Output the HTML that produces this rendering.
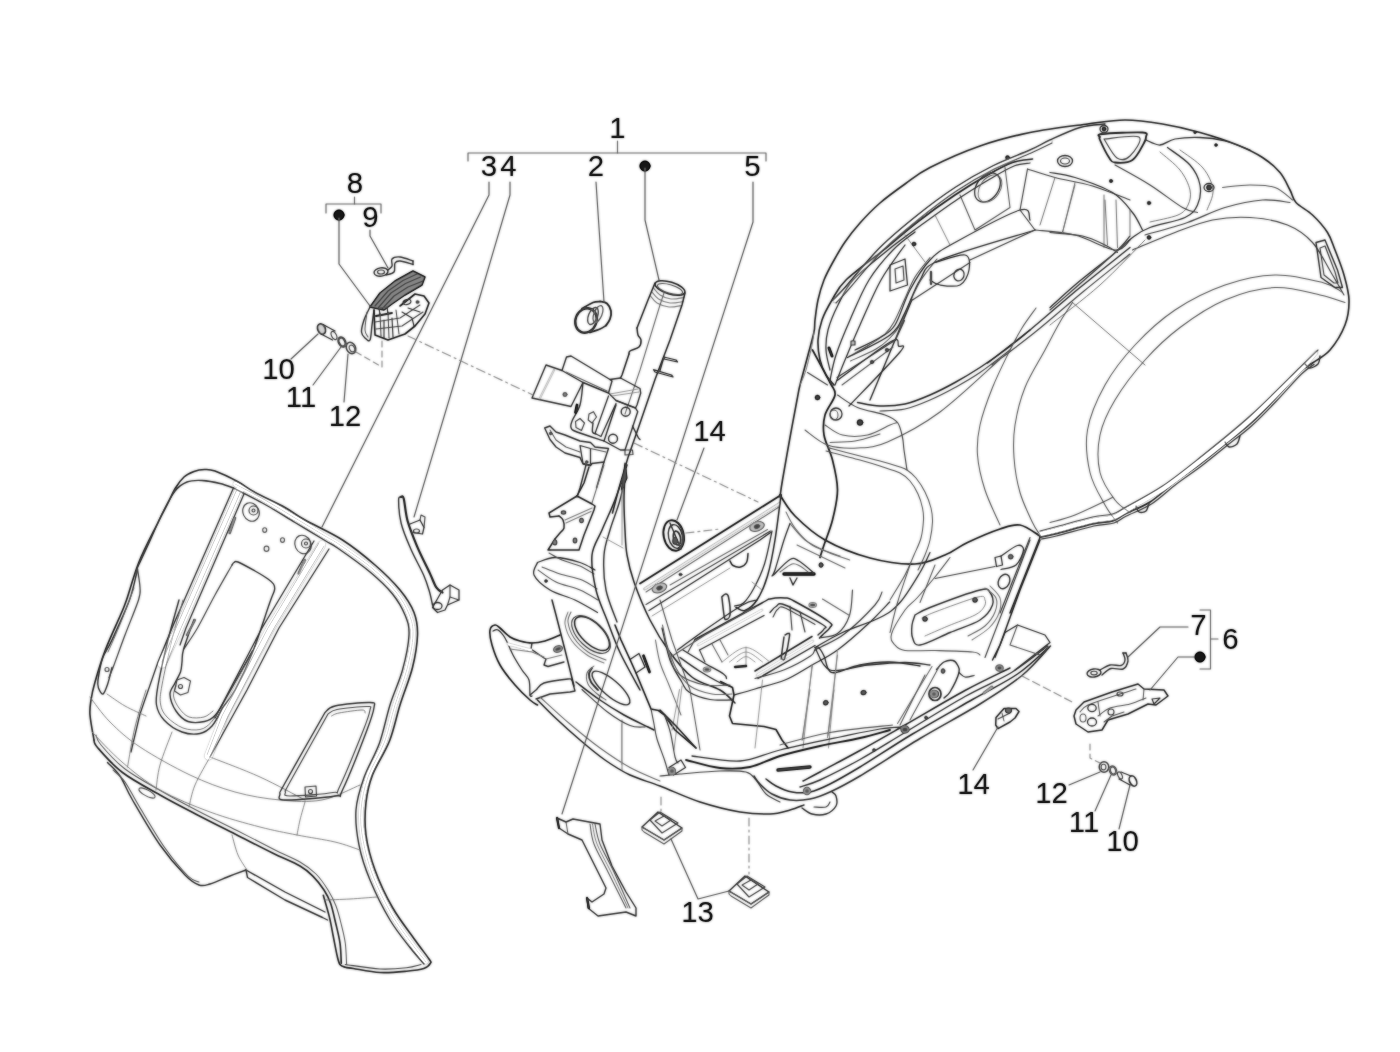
<!DOCTYPE html>
<html lang="en"><head><meta charset="utf-8"><title>Frame / bodywork</title>
<style>
html,body{margin:0;padding:0;background:#fff;}
body{width:1400px;height:1052px;overflow:hidden;}
svg{display:block;font-family:"Liberation Sans",Arial,sans-serif;}
svg path,svg ellipse{stroke-linecap:round;stroke-linejoin:round;}
</style></head><body>
<svg width="1400" height="1052" viewBox="0 0 1400 1052">
<rect width="1400" height="1052" fill="#fff"/>
<defs><filter id="bl" x="0" y="0" width="1400" height="1052" filterUnits="userSpaceOnUse" color-interpolation-filters="sRGB"><feGaussianBlur in="SourceGraphic" stdDeviation="0.8" result="b"/><feComposite operator="arithmetic" in="SourceGraphic" in2="b" k1="0" k2="0.6" k3="0.65" k4="0"/></filter></defs>
<g filter="url(#bl)">
<path d="M238.5,491.5 L179,628 L162,664" fill="none" stroke="#e4e4e4" stroke-width="9.2"/>
<path d="M321.5,545 L270.5,628 L224,716 L208.5,756" fill="none" stroke="#e4e4e4" stroke-width="9.2"/>
<path d="M235,484C240.0,486.7 255.0,494.3 265,500C275.0,505.7 285.0,512.0 295,518C305.0,524.0 317.5,531.5 325,536C332.5,540.5 332.0,539.5 340,545C348.0,550.5 363.7,561.2 373,569C382.3,576.8 390.0,584.5 396,592C402.0,599.5 406.2,606.8 409,614C411.8,621.2 413.3,625.8 413,635C412.7,644.2 410.0,657.3 407,669C404.0,680.7 398.8,692.8 395,705C391.2,717.2 389.0,730.0 384.5,742C380.0,754.0 371.9,765.7 368,777C364.1,788.3 361.8,799.5 361,810C360.2,820.5 361.0,829.0 363,840C365.0,851.0 368.2,863.7 373,876C377.8,888.3 385.0,902.7 391.5,914C398.0,925.3 406.2,936.0 412,944C417.8,952.0 423.7,959.0 426,962" fill="none" stroke="#e6e6e6" stroke-width="5.17"/>
<path d="M94,740C93.3,735.8 90.5,721.7 90,715C89.5,708.3 90.2,705.5 91,700C91.8,694.5 92.6,690.4 95,682C97.4,673.6 101.2,660.7 105.5,649.5C109.8,638.3 117.0,623.2 120.5,615C124.0,606.8 123.4,608.8 126.5,600C129.6,591.2 133.7,575.1 139,562C144.3,548.9 153.8,531.2 158.5,521.5C163.2,511.8 164.7,509.6 167.5,504C170.3,498.4 172.8,492.5 175.5,488C178.2,483.5 180.9,479.8 184,477C187.1,474.2 190.6,472.8 194,471.5C197.4,470.2 201.0,469.6 204.5,469.5C208.0,469.4 209.5,469.0 215,471C220.5,473.0 230.8,477.9 237.5,481.5C244.2,485.1 247.1,488.2 255,492.5C262.9,496.8 276.7,502.9 285,507.5C293.3,512.1 295.4,514.6 305,520C314.6,525.4 330.8,532.5 342.5,540C354.2,547.5 365.4,556.7 375,565C384.6,573.3 393.5,582.1 400,590C406.5,597.9 411.1,605.0 414,612.5C416.9,620.0 417.8,625.8 417.5,635C417.2,644.2 415.4,655.8 412.5,667.5C409.6,679.2 403.8,692.8 400,705C396.2,717.2 394.1,729.3 389.5,741C384.9,752.7 376.4,764.8 372.5,775C368.6,785.2 367.1,792.5 366,802.5C364.9,812.5 364.5,823.8 366,835C367.5,846.2 370.6,857.9 375,870C379.4,882.1 385.8,895.8 392.5,907.5C399.2,919.2 408.9,931.4 415,940C421.1,948.6 426.4,955.1 429,959C431.6,962.9 431.4,961.6 430.5,963.2C429.6,964.8 427.8,967.2 423.8,968.5C419.8,969.8 413.8,970.5 406.5,971.2C399.2,971.9 388.9,973.0 380,972.5C371.1,972.0 359.1,969.4 353.3,968.5C347.5,967.6 347.5,967.9 345.3,967.2C343.1,966.5 341.3,966.3 340,964.5C338.7,962.7 338.4,961.2 337.3,956.5C336.2,951.8 334.6,943.1 333.3,936.5C332.0,929.9 331.0,923.5 329.3,916.6C327.6,909.7 324.3,898.8 323.3,895.3" fill="none" stroke="#3a3a3a" stroke-width="1.61"/>
<path d="M233.5,488C238.8,490.8 254.8,498.8 265,504.5C275.2,510.2 285.0,516.5 295,522.5C305.0,528.5 317.9,536.2 325,540.5C332.1,544.8 330.0,542.8 337.5,548C345.0,553.2 360.8,564.3 370,572C379.2,579.7 386.7,586.8 392.5,594C398.3,601.2 402.2,608.2 405,615C407.8,621.8 409.4,625.8 409,635C408.6,644.2 405.7,658.3 402.5,670C399.3,681.7 393.8,692.8 390,705C386.2,717.2 383.8,730.9 379.5,743C375.2,755.1 367.9,766.3 364,777.5C360.1,788.7 356.8,798.8 356,810C355.2,821.2 356.7,833.3 359,845C361.3,856.7 364.8,867.5 370,880C375.2,892.5 383.3,908.8 390,920C396.7,931.2 404.3,940.2 410,947.5C415.7,954.8 421.7,961.2 424,964" fill="none" stroke="#444" stroke-width="1.38"/>
<path d="M235,484C240.0,486.7 255.0,494.3 265,500C275.0,505.7 285.0,512.0 295,518C305.0,524.0 317.5,531.5 325,536C332.5,540.5 332.0,539.5 340,545C348.0,550.5 363.7,561.2 373,569C382.3,576.8 390.0,584.5 396,592C402.0,599.5 406.2,606.8 409,614C411.8,621.2 413.3,625.8 413,635C412.7,644.2 410.0,657.3 407,669C404.0,680.7 398.8,692.8 395,705C391.2,717.2 389.0,730.0 384.5,742C380.0,754.0 371.9,765.7 368,777C364.1,788.3 361.8,799.5 361,810C360.2,820.5 361.0,829.0 363,840C365.0,851.0 368.2,863.7 373,876C377.8,888.3 385.0,902.7 391.5,914C398.0,925.3 406.2,936.0 412,944C417.8,952.0 423.7,959.0 426,962" fill="none" stroke="#888" stroke-width="0.92"/>
<path d="M233.5,488C231.2,487.2 225.2,484.8 220,483.5C214.8,482.2 207.5,480.8 202,480.5C196.5,480.2 191.5,480.2 187,482C182.5,483.8 179.0,486.0 175,491C171.0,496.0 167.5,503.0 163,512C158.5,521.0 152.2,535.8 148,545C143.8,554.2 139.2,563.8 137.5,567.5" fill="none" stroke="#444" stroke-width="1.38"/>
<path d="M233,489 L172,628 L158,662 L140,714 L131,752" fill="none" stroke="#444" stroke-width="1.26"/>
<path d="M236.5,490.5 L176,628 L162,662" fill="none" stroke="#777" stroke-width="0.92"/>
<path d="M240.5,492 L181,628 L166,665" fill="none" stroke="#777" stroke-width="0.92"/>
<path d="M244,494 L186,628 L180,645" fill="none" stroke="#444" stroke-width="1.26"/>
<path d="M314,541 L262,628 L215,718" fill="none" stroke="#444" stroke-width="1.26"/>
<path d="M319,543 L268,628 L222,716 L207,755" fill="none" stroke="#777" stroke-width="0.92"/>
<path d="M324,546 L274,628 L228,716 L210,757" fill="none" stroke="#777" stroke-width="0.92"/>
<path d="M329,549 L279,628 L247,690 L210,757" fill="none" stroke="#444" stroke-width="1.26"/>
<ellipse cx="251" cy="512" rx="8" ry="9.5" transform="rotate(-25 251 512)" fill="none" stroke="#555" stroke-width="1.15"/>
<ellipse cx="253.5" cy="510.5" rx="4.5" ry="4.5" transform="rotate(0 253.5 510.5)" fill="none" stroke="#555" stroke-width="1.15"/>
<ellipse cx="253.5" cy="510.5" rx="1.5" ry="1.5" transform="rotate(0 253.5 510.5)" fill="none" stroke="#555" stroke-width="1.15"/>
<ellipse cx="303" cy="544.5" rx="8" ry="9.5" transform="rotate(-25 303 544.5)" fill="none" stroke="#555" stroke-width="1.15"/>
<ellipse cx="306" cy="543.5" rx="4.5" ry="4.5" transform="rotate(0 306 543.5)" fill="none" stroke="#555" stroke-width="1.15"/>
<ellipse cx="306" cy="543.5" rx="1.5" ry="1.5" transform="rotate(0 306 543.5)" fill="none" stroke="#555" stroke-width="1.15"/>
<ellipse cx="264.7" cy="530" rx="2" ry="2.3" transform="rotate(0 264.7 530)" fill="none" stroke="#666" stroke-width="1.15"/>
<ellipse cx="282.5" cy="540" rx="2" ry="2.3" transform="rotate(0 282.5 540)" fill="none" stroke="#666" stroke-width="1.15"/>
<ellipse cx="266.5" cy="548.7" rx="2.4" ry="2.6" transform="rotate(0 266.5 548.7)" fill="none" stroke="#666" stroke-width="1.15"/>
<path d="M235,518 L229.7,533" fill="none" stroke="#777" stroke-width="2.53"/>
<path d="M304.7,560 L298.7,573.5" fill="none" stroke="#777" stroke-width="2.53"/>
<path d="M232,565C232.3,564.6 233.0,563.0 234,562.5C235.0,562.0 234.5,560.6 238,562C241.5,563.4 250.0,568.2 255,571C260.0,573.8 264.9,576.8 268,579C271.1,581.2 272.4,582.2 273.5,584C274.6,585.8 275.1,587.0 274.5,590C273.9,593.0 273.7,591.6 270,602C266.3,612.4 258.3,637.8 252.5,652.5C246.7,667.2 240.0,680.8 235,690C230.0,699.2 224.6,705.0 222.5,708" fill="none" stroke="#444" stroke-width="1.38"/>
<path d="M232,565C229.2,570.0 220.8,584.5 215,595C209.2,605.5 202.8,618.9 197.5,628C192.2,637.1 185.8,645.9 183.5,649.5" fill="none" stroke="#555" stroke-width="1.15"/>
<path d="M179,600C177.2,606.7 171.5,625.8 168,640C164.5,654.2 159.9,674.7 158,685.5C156.1,696.3 155.5,699.2 156.5,705C157.5,710.8 159.8,715.5 164,720C168.2,724.5 176.0,729.8 182,732C188.0,734.2 195.0,734.5 200,733.5C205.0,732.5 208.2,730.2 212,726C215.8,721.8 220.8,711.0 222.5,708" fill="none" stroke="#444" stroke-width="1.38"/>
<path d="M183,600C181.2,606.7 175.5,625.8 172,640C168.5,654.2 163.9,674.3 162,685C160.1,695.7 159.7,698.7 160.5,704C161.3,709.3 163.2,713.0 167,717C170.8,721.0 177.5,725.9 183,728C188.5,730.1 195.3,730.4 200,729.5C204.7,728.6 207.8,725.8 211,722.5C214.2,719.2 217.7,712.1 219,710" fill="none" stroke="#777" stroke-width="0.92"/>
<path d="M194,619.5C192.2,624.5 185.5,642.4 183.5,649.5C181.5,656.6 182.5,658.2 182,662C181.5,665.8 181.7,668.5 180.5,672C179.3,675.5 176.8,679.2 175,683C173.2,686.8 169.8,689.8 170,694.5C170.2,699.2 173.0,706.5 176,711C179.0,715.5 183.2,719.8 188,721.5C192.8,723.2 200.0,722.5 204.5,721.5C209.0,720.5 211.6,719.1 215,715.5C218.4,711.9 218.8,710.8 225,700C231.2,689.2 247.9,659.2 252.5,651" fill="none" stroke="#444" stroke-width="1.38"/>
<path d="M176,686C175.6,687.7 173.0,692.3 173.5,696C174.0,699.7 176.4,704.5 179,708C181.6,711.5 184.8,715.5 189,717C193.2,718.5 200.0,718.0 204,717C208.0,716.0 211.5,712.0 213,711" fill="none" stroke="#777" stroke-width="0.92"/>
<path d="M177,680 L184,677.5 L190.5,681 L188,692.5 L180.5,695 L174.5,691Z" fill="none" stroke="#555" stroke-width="1.15"/>
<ellipse cx="180.5" cy="686.5" rx="2" ry="2" transform="rotate(0 180.5 686.5)" fill="none" stroke="#555" stroke-width="1.15"/>
<path d="M195,620 L187,635" fill="none" stroke="#777" stroke-width="2.3"/>
<path d="M137.5,569C136.2,574.2 133.8,588.2 129.5,600C125.2,611.8 116.5,630.2 112,640C107.5,649.8 104.8,651.8 102.5,658.5C100.2,665.2 98.7,675.1 98,680C97.3,684.9 97.7,685.7 98.5,688C99.3,690.3 101.5,694.7 103,694C104.5,693.3 106.2,688.4 107.7,684C109.2,679.6 111.3,670.2 112,667.5" fill="none" stroke="#444" stroke-width="1.38"/>
<path d="M137.5,569C137.9,572.1 139.8,582.3 140,587.5C140.2,592.7 141.0,592.1 138.5,600C136.0,607.9 129.1,624.2 125,635C120.9,645.8 116.7,657.9 114,665C111.3,672.1 109.8,675.4 109,677.5" fill="none" stroke="#555" stroke-width="1.26"/>
<path d="M134,588C131.8,593.7 125.3,611.3 121,622C116.7,632.7 110.2,647.0 108,652" fill="none" stroke="#777" stroke-width="0.92"/>
<ellipse cx="107" cy="669.5" rx="2" ry="2" transform="rotate(0 107 669.5)" fill="none" stroke="#666" stroke-width="1.15"/>
<path d="M94,740C94.6,741.2 92.8,742.1 97.5,747.5C102.2,752.9 112.1,764.6 122.5,772.5C132.9,780.4 147.5,787.9 160,795C172.5,802.1 185.0,808.5 197.5,815C210.0,821.5 222.5,827.7 235,834C247.5,840.3 261.7,847.7 272.5,853C283.3,858.3 293.2,862.1 300,866C306.8,869.9 309.3,872.6 313.3,876.6C317.3,880.6 321.1,885.5 324,890C326.9,894.5 328.6,897.5 330.6,903.3C332.6,909.0 334.4,917.9 336,924.5C337.6,931.1 339.1,936.8 340,943.2C340.9,949.7 341.1,959.9 341.3,963.2" fill="none" stroke="#3a3a3a" stroke-width="1.61"/>
<path d="M96,735C96.8,736.7 96.2,739.3 101,745C105.8,750.7 114.8,761.2 125,769C135.2,776.8 149.7,784.4 162,791.5C174.3,798.6 186.5,805.0 199,811.5C211.5,818.0 224.5,824.2 237,830.5C249.5,836.8 263.5,844.2 274,849.5C284.5,854.8 293.0,857.9 300,862C307.0,866.1 311.3,869.3 316,874C320.7,878.7 324.7,884.7 328,890C331.3,895.3 333.8,900.2 336,906C338.2,911.8 339.8,918.3 341.3,924.5C342.9,930.7 344.4,936.5 345.3,943.2C346.2,949.9 346.4,961.0 346.6,964.5" fill="none" stroke="#666" stroke-width="1.03"/>
<path d="M107.5,762.5C109.6,764.8 115.8,769.8 120,776C124.2,782.2 125.8,788.5 132.5,800C139.2,811.5 151.2,832.5 160,845C168.8,857.5 178.5,868.3 185,875C191.5,881.7 194.8,883.5 199,885C203.2,886.5 204.8,885.5 210,884C215.2,882.5 224.0,878.3 230,876C236.0,873.7 243.3,871.0 246,870" fill="none" stroke="#444" stroke-width="1.38"/>
<path d="M113,770C115.0,772.0 120.7,776.0 125,782C129.3,788.0 132.3,795.0 139,806C145.7,817.0 156.8,836.3 165,848C173.2,859.7 182.3,870.3 188,876C193.7,881.7 197.2,881.0 199,882" fill="none" stroke="#666" stroke-width="1.03"/>
<path d="M246,870 L247.5,877.5 L285,900 L322.5,917.5 L327.5,920" fill="none" stroke="#444" stroke-width="1.38"/>
<path d="M246,870 L285,892 L325,912" fill="none" stroke="#444" stroke-width="1.38"/>
<path d="M232,835C233.0,838.3 235.5,849.2 238,855C240.5,860.8 245.5,867.5 247,870" fill="none" stroke="#888" stroke-width="0.92"/>
<ellipse cx="147" cy="793" rx="9" ry="3" transform="rotate(28 147 793)" fill="none" stroke="#666" stroke-width="1.03"/>
<path d="M90,697C93.3,701.2 101.7,713.7 110,722C118.3,730.3 126.7,738.2 140,747C153.3,755.8 174.2,767.5 190,775C205.8,782.5 220.0,787.8 235,792C250.0,796.2 265.5,798.7 280,800C294.5,801.3 308.7,802.5 322,800C335.3,797.5 353.7,787.5 360,785" fill="none" stroke="#888" stroke-width="0.92"/>
<path d="M92,732C97.0,737.0 110.7,752.3 122,762C133.3,771.7 145.3,781.7 160,790C174.7,798.3 193.3,805.8 210,812C226.7,818.2 245.5,823.2 260,827C274.5,830.8 284.5,832.5 297,835C309.5,837.5 324.5,839.5 335,842C345.5,844.5 355.8,848.7 360,850" fill="none" stroke="#888" stroke-width="0.92"/>
<path d="M146,690C144.2,696.2 138.1,714.2 135,727C131.9,739.8 128.8,760.3 127.5,767" fill="none" stroke="#888" stroke-width="0.92"/>
<path d="M172,732C170.0,737.5 162.7,755.3 160,765C157.3,774.7 156.7,785.8 156,790" fill="none" stroke="#888" stroke-width="0.92"/>
<path d="M210,757C207.5,761.7 198.5,776.7 195,785C191.5,793.3 190.0,803.3 189,807" fill="none" stroke="#888" stroke-width="0.92"/>
<path d="M210,757C218.3,760.3 244.2,769.8 260,777C275.8,784.2 297.5,796.2 305,800" fill="none" stroke="#888" stroke-width="0.92"/>
<path d="M305,802C304.2,805.0 301.3,814.5 300,820C298.7,825.5 297.5,832.5 297,835" fill="none" stroke="#888" stroke-width="0.92"/>
<path d="M325,900C329.2,899.8 341.3,899.5 350,899C358.7,898.5 372.5,897.3 377,897" fill="none" stroke="#888" stroke-width="0.92"/>
<path d="M107,694C110.0,696.0 118.5,702.3 125,706C131.5,709.7 142.5,714.3 146,716" fill="none" stroke="#888" stroke-width="0.92"/>
<path d="M325,712.5C326.7,711.4 327.5,707.7 335,706C342.5,704.3 363.5,702.2 370,702.5C376.5,702.8 374.5,702.9 374,707.5C373.5,712.1 372.2,716.2 367,730C361.8,743.8 347.8,779.0 342.5,790C337.2,801.0 344.6,794.3 335,796C325.4,797.7 294.2,800.3 285,800C275.8,799.7 280.0,796.8 280,794C280.0,791.2 277.5,796.6 285,783C292.5,769.4 318.3,724.2 325,712.5" fill="none" stroke="#444" stroke-width="1.38"/>
<path d="M328,714C329.5,713.2 330.5,710.8 337,709.5C343.5,708.2 361.5,706.4 367,706.5C372.5,706.6 370.7,705.9 370,710C369.3,714.1 368.1,718.2 363,731C357.9,743.8 344.5,776.8 339.5,787C334.5,797.2 341.2,791.0 333,792.5C324.8,794.0 297.9,796.1 290,796C282.1,795.9 285.5,794.3 285.5,792C285.5,789.7 282.9,795.0 290,782C297.1,769.0 321.7,725.3 328,714" fill="none" stroke="#555" stroke-width="1.15"/>
<path d="M331.5,716C332.8,715.5 333.9,714.0 339,713C344.1,712.0 357.7,710.0 362,710C366.3,710.0 364.5,712.5 365,713" fill="none" stroke="#777" stroke-width="0.92"/>
<path d="M305,787 L316,786 L316.5,796 L305.5,797Z" fill="none" stroke="#555" stroke-width="1.15"/>
<ellipse cx="310.5" cy="791.5" rx="2" ry="2" transform="rotate(0 310.5 791.5)" fill="none" stroke="#555" stroke-width="1.15"/>
<path d="M345.3,964.5C351.1,965.2 369.8,968.5 380,969C390.2,969.5 399.7,968.5 406.5,967.7C413.3,967.0 418.6,965.0 421,964.5" fill="none" stroke="#555" stroke-width="1.15"/>
<path d="M780,497C780.4,494.2 780.8,489.9 782.5,480C784.2,470.1 787.6,450.8 790,437.5C792.4,424.2 795.3,408.8 797,400C798.7,391.2 798.2,392.5 800,385C801.8,377.5 805.7,363.8 808,355C810.3,346.2 812.8,337.8 814,332C815.2,326.2 814.3,325.3 815,320C815.7,314.7 816.5,306.7 818,300C819.5,293.3 821.5,286.3 824,280C826.5,273.7 829.5,268.3 833,262C836.5,255.7 840.5,248.5 845,242C849.5,235.5 854.2,229.5 860,223C865.8,216.5 872.5,209.5 880,203C887.5,196.5 896.7,189.9 905,184C913.3,178.1 917.5,173.8 930,167.5C942.5,161.2 963.3,151.8 980,146C996.7,140.2 1012.1,136.2 1030,132.5C1047.9,128.8 1071.7,126.1 1087.5,124C1103.3,121.9 1112.5,120.0 1125,120C1137.5,120.0 1150.0,121.9 1162.5,124C1175.0,126.1 1187.5,129.0 1200,132.5C1212.5,136.0 1227.1,140.8 1237.5,145C1247.9,149.2 1255.4,152.9 1262.5,157.5C1269.6,162.1 1275.4,167.1 1280,172.5C1284.6,177.9 1287.3,185.0 1290,190C1292.7,195.0 1292.2,198.3 1296,202.5C1299.8,206.7 1307.2,210.0 1312.5,215C1317.8,220.0 1323.8,226.7 1327.5,232.5C1331.2,238.3 1332.2,242.9 1335,250C1337.8,257.1 1341.7,266.7 1344,275C1346.3,283.3 1348.8,291.7 1349,300C1349.2,308.3 1348.2,316.7 1345,325C1341.8,333.3 1335.4,343.7 1330,350C1324.6,356.3 1317.5,359.3 1312.5,363C1307.5,366.7 1306.2,366.0 1300,372C1293.8,378.0 1283.3,390.3 1275,399C1266.7,407.7 1258.3,416.5 1250,424C1241.7,431.5 1233.3,437.3 1225,444C1216.7,450.7 1208.3,457.7 1200,464C1191.7,470.3 1183.3,475.7 1175,482C1166.7,488.3 1158.3,496.7 1150,502C1141.7,507.3 1131.2,510.8 1125,514C1118.8,517.2 1117.9,519.3 1112.5,521C1107.1,522.7 1102.1,521.8 1092.5,524C1082.9,526.2 1063.8,531.8 1055,534C1046.2,536.2 1042.5,536.5 1040,537" fill="none" stroke="#3a3a3a" stroke-width="1.61"/>
<path d="M1040,534C1042.5,533.4 1046.2,532.8 1055,530.5C1063.8,528.2 1082.9,522.7 1092.5,520.5C1102.1,518.3 1107.1,519.1 1112.5,517.5C1117.9,515.9 1116.7,515.8 1125,511C1133.3,506.2 1150.0,497.3 1162.5,489C1175.0,480.7 1185.4,472.5 1200,461C1214.6,449.5 1233.3,435.2 1250,420C1266.7,404.8 1289.0,381.2 1300,370C1311.0,358.8 1313.3,355.8 1316,353" fill="none" stroke="#e0e0e0" stroke-width="4.6"/>
<path d="M1040,531C1042.5,530.3 1046.2,529.3 1055,527C1063.8,524.7 1082.9,519.2 1092.5,517C1102.1,514.8 1107.1,515.6 1112.5,514C1117.9,512.4 1116.7,512.2 1125,507.5C1133.3,502.8 1150.0,494.3 1162.5,486C1175.0,477.7 1185.4,469.2 1200,457.5C1214.6,445.8 1233.3,431.0 1250,416C1266.7,401.0 1288.7,378.5 1300,367.5C1311.3,356.5 1315.0,352.9 1318,350" fill="none" stroke="#555" stroke-width="1.15"/>
<path d="M1314,364.5C1311.9,366.1 1307.8,367.9 1301.5,374C1295.2,380.1 1284.8,392.3 1276.5,401C1268.2,409.7 1259.8,418.5 1251.5,426C1243.2,433.5 1234.8,439.3 1226.5,446C1218.2,452.7 1209.8,459.7 1201.5,466C1193.2,472.3 1184.8,477.7 1176.5,484C1168.2,490.3 1159.8,498.7 1151.5,504C1143.2,509.3 1132.8,512.8 1126.5,516C1120.2,519.2 1119.4,521.3 1114,523C1108.6,524.7 1103.6,523.8 1094,526C1084.4,528.2 1065.2,533.8 1056.5,536C1047.8,538.2 1044.0,538.5 1041.5,539" fill="none" stroke="#555" stroke-width="1.26"/>
<path d="M1136,506C1136.5,507.0 1137.3,511.2 1139,512C1140.7,512.8 1144.3,512.5 1146,511C1147.7,509.5 1148.5,504.3 1149,503" fill="none" stroke="#444" stroke-width="1.38"/>
<path d="M1225,442C1225.7,442.8 1227.0,446.7 1229,447C1231.0,447.3 1235.2,445.8 1237,444C1238.8,442.2 1239.5,437.3 1240,436" fill="none" stroke="#444" stroke-width="1.38"/>
<path d="M1305,364C1305.8,364.7 1307.8,368.0 1310,368C1312.2,368.0 1316.3,366.0 1318,364C1319.7,362.0 1319.7,357.3 1320,356" fill="none" stroke="#444" stroke-width="1.38"/>
<path d="M834.5,301.5C836.5,299.4 838.7,297.8 846.5,289C854.3,280.2 869.4,261.1 881.5,249C893.6,236.9 906.5,226.5 919,216.5C931.5,206.5 944.0,197.2 956.5,189C969.0,180.8 981.6,173.8 994,167.5C1006.4,161.2 1021.5,155.8 1031,151.5C1040.5,147.2 1047.7,143.2 1051,141.5" fill="none" stroke="#d6d6d6" stroke-width="3.45"/>
<path d="M833,300C835.0,297.9 837.2,296.2 845,287.5C852.8,278.8 867.9,259.6 880,247.5C892.1,235.4 905.0,225.0 917.5,215C930.0,205.0 942.5,195.7 955,187.5C967.5,179.3 980.0,172.2 992.5,166C1005.0,159.8 1020.4,154.3 1030,150C1039.6,145.7 1041.7,143.8 1050,140C1058.3,136.2 1070.8,130.2 1080,127.5C1089.2,124.8 1100.8,124.6 1105,124" fill="none" stroke="#444" stroke-width="1.38"/>
<path d="M836,303C838.0,300.8 840.2,298.8 848,290C855.8,281.2 871.0,262.0 883,250C895.0,238.0 907.7,227.9 920,218C932.3,208.1 944.7,198.7 957,190.5C969.3,182.3 981.7,175.2 994,169C1006.3,162.8 1021.3,157.3 1031,153C1040.7,148.7 1048.5,144.7 1052,143" fill="none" stroke="#555" stroke-width="1.15"/>
<path d="M834,385C832.7,383.3 828.3,379.2 826,375C823.7,370.8 821.3,365.8 820,360C818.7,354.2 817.7,346.7 818,340C818.3,333.3 819.7,326.7 822,320C824.3,313.3 828.0,306.7 832,300C836.0,293.3 837.4,288.3 846,280C854.6,271.7 871.6,259.7 883.5,250C895.4,240.3 905.6,231.2 917.5,222C929.4,212.8 943.3,202.8 955,195C966.7,187.2 977.9,180.4 987.5,175C997.1,169.6 1005.0,165.2 1012.5,162.5C1020.0,159.8 1029.2,159.6 1032.5,159" fill="none" stroke="#3a3a3a" stroke-width="1.61"/>
<path d="M830,370C829.3,366.7 826.3,356.7 826,350C825.7,343.3 826.0,337.5 828,330C830.0,322.5 833.8,313.3 838,305C842.2,296.7 844.7,289.2 853,280C861.3,270.8 876.8,259.0 888,250C899.2,241.0 908.3,234.5 920,226C931.7,217.5 946.3,206.8 958,199C969.7,191.2 980.7,184.5 990,179C999.3,173.5 1007.3,168.7 1014,166C1020.7,163.3 1027.3,163.5 1030,163" fill="none" stroke="#444" stroke-width="1.26"/>
<path d="M830,380C831.0,375.8 832.7,365.0 836,355C839.3,345.0 844.5,332.5 850,320C855.5,307.5 861.8,291.7 869,280C876.2,268.3 885.3,258.0 893,250C900.7,242.0 911.3,235.0 915,232" fill="none" stroke="#444" stroke-width="1.26"/>
<path d="M835,385C836.7,380.8 840.8,370.0 845,360C849.2,350.0 854.0,338.3 860,325C866.0,311.7 873.5,293.3 881,280C888.5,266.7 901.0,250.8 905,245" fill="none" stroke="#444" stroke-width="1.26"/>
<path d="M930,257.5C927.5,260.8 919.2,270.0 915,277C910.8,284.0 908.0,292.0 904.5,299.5C901.0,307.0 897.2,316.2 894,322C890.8,327.8 889.0,330.2 885,334C881.0,337.8 876.0,340.8 870,344.5C864.0,348.2 852.5,354.5 849,356.5" fill="none" stroke="#666" stroke-width="1.03"/>
<path d="M937,259C934.3,262.5 925.4,273.0 921,280C916.6,287.0 914.0,293.5 910.5,301C907.0,308.5 903.5,318.8 900,325C896.5,331.2 893.5,334.5 889.5,338.5C885.5,342.5 882.5,345.2 876,349C869.5,352.8 854.8,359.0 850.5,361" fill="none" stroke="#666" stroke-width="1.03"/>
<path d="M912,299.5 L870,400" fill="none" stroke="#444" stroke-width="1.38"/>
<path d="M904.5,320.5 L895.5,340 L837,377.5" fill="none" stroke="#555" stroke-width="1.15"/>
<path d="M829,348 L832,356" fill="none" stroke="#2a2a2a" stroke-width="2.99"/>
<path d="M814,332C813.7,334.2 813.3,338.7 812,345C810.7,351.3 808.0,363.3 806,370C804.0,376.7 801.0,382.5 800,385" fill="none" stroke="#888" stroke-width="0.92"/>
<path d="M851,341 L855,341 L855,345 L851,345Z" fill="#999" stroke="#555" stroke-width="1.15"/>
<path d="M1035,230C1019.2,235.0 959.2,251.7 940,260C920.8,268.3 925.8,271.2 920,280C914.2,288.8 910.0,303.3 905,312.5C900.0,321.7 899.6,327.5 890,335C880.4,342.5 854.6,353.8 847.5,357.5" fill="none" stroke="#444" stroke-width="1.26"/>
<path d="M1030,220C1028.3,218.3 1032.5,206.2 1020,210C1007.5,213.8 970.0,234.2 955,242.5C940.0,250.8 937.5,252.1 930,260C922.5,267.9 915.8,279.2 910,290C904.2,300.8 900.0,317.1 895,325C890.0,332.9 886.7,333.3 880,337.5C873.3,341.7 859.2,347.9 855,350" fill="none" stroke="#444" stroke-width="1.26"/>
<path d="M970,260 L1035,230" fill="none" stroke="#555" stroke-width="1.15"/>
<path d="M912.5,300 L970,262.5" fill="none" stroke="#555" stroke-width="1.15"/>
<path d="M935,262.5C940.0,261.2 959.3,253.8 965,255C970.7,256.2 969.8,265.0 969,270C968.2,275.0 964.8,282.5 960,285C955.2,287.5 945.0,285.8 940,285C935.0,284.2 931.7,280.8 930,280" fill="none" stroke="#444" stroke-width="1.26"/>
<ellipse cx="959" cy="275" rx="5" ry="6" transform="rotate(20 959 275)" fill="none" stroke="#444" stroke-width="1.26"/>
<path d="M931,272 L931,284" fill="none" stroke="#555" stroke-width="2.3"/>
<path d="M1035,230C1041.7,230.8 1061.7,231.7 1075,235C1088.3,238.3 1105.8,249.2 1115,250C1124.2,250.8 1127.5,241.7 1130,240" fill="none" stroke="#555" stroke-width="1.15"/>
<path d="M1027.5,169C1032.1,170.4 1044.2,174.7 1055,177.5C1065.8,180.3 1080.0,182.2 1092.5,186C1105.0,189.8 1123.8,197.7 1130,200" fill="none" stroke="#555" stroke-width="1.15"/>
<path d="M1027.5,169 L1020,210 L1035,230" fill="none" stroke="#555" stroke-width="1.15"/>
<path d="M1055,177.5 L1040,225" fill="none" stroke="#777" stroke-width="0.92"/>
<path d="M1075,182.5 L1062.5,232.5" fill="none" stroke="#777" stroke-width="0.92"/>
<path d="M1105,200 L1107.5,245" fill="none" stroke="#777" stroke-width="0.92"/>
<ellipse cx="987.5" cy="187.5" rx="11" ry="16" transform="rotate(35 987.5 187.5)" fill="none" stroke="#444" stroke-width="1.26"/>
<ellipse cx="990" cy="188.5" rx="10" ry="15" transform="rotate(35 990 188.5)" fill="none" stroke="#777" stroke-width="0.92"/>
<path d="M960,195 L975,230 L1010,207.5 L1005,167.5" fill="none" stroke="#666" stroke-width="1.03"/>
<path d="M935,215 L950,245" fill="none" stroke="#888" stroke-width="0.92"/>
<path d="M905,235 L925,262" fill="none" stroke="#888" stroke-width="0.92"/>
<path d="M987.5,363C994.6,357.5 1014.6,342.6 1030,330C1045.4,317.4 1063.3,301.2 1080,287.5C1096.7,273.8 1121.7,254.2 1130,247.5" fill="none" stroke="#444" stroke-width="1.38"/>
<path d="M992,365C999.0,359.7 1018.7,345.3 1034,333C1049.3,320.7 1068.0,304.2 1084,291C1100.0,277.8 1122.3,260.2 1130,254" fill="none" stroke="#555" stroke-width="1.15"/>
<ellipse cx="1065" cy="161" rx="7.5" ry="5.5" transform="rotate(0 1065 161)" fill="none" stroke="#444" stroke-width="1.26"/>
<ellipse cx="1065" cy="161" rx="4.5" ry="3" transform="rotate(0 1065 161)" fill="none" stroke="#555" stroke-width="1.15"/>
<ellipse cx="1007.5" cy="157.5" rx="2" ry="2" transform="rotate(0 1007.5 157.5)" fill="#333" stroke="#333" stroke-width="0.57"/>
<ellipse cx="914" cy="244" rx="2" ry="2" transform="rotate(0 914 244)" fill="#333" stroke="#333" stroke-width="0.57"/>
<ellipse cx="1111" cy="181" rx="1.7" ry="1.7" transform="rotate(0 1111 181)" fill="#333" stroke="#333" stroke-width="0.57"/>
<path d="M890,265 L905,259 L907.5,285 L890,291Z" fill="none" stroke="#444" stroke-width="1.26"/>
<path d="M895,269 L903,266 L904,280 L896,283Z" fill="none" stroke="#555" stroke-width="1.15"/>
<path d="M1100,137C1100.3,136.5 1094.9,134.8 1102,134C1109.1,133.2 1135.2,132.0 1142.5,132.5C1149.8,133.0 1145.8,135.2 1146,137C1146.2,138.8 1146.2,139.2 1144,143C1141.8,146.8 1137.3,156.8 1132.5,160C1127.7,163.2 1118.9,162.9 1115,162.5C1111.1,162.1 1111.5,161.2 1109,157.5C1106.5,153.8 1101.5,143.4 1100,140C1098.5,136.6 1100.0,137.5 1100,137" fill="none" stroke="#3a3a3a" stroke-width="1.84"/>
<path d="M1104,139C1109.8,138.7 1134.7,134.2 1139,137C1143.3,139.8 1133.7,152.5 1130,156C1126.3,159.5 1121.3,160.8 1117,158C1112.7,155.2 1106.2,142.2 1104,139" fill="none" stroke="#555" stroke-width="1.15"/>
<ellipse cx="1104" cy="129" rx="4" ry="3.5" transform="rotate(0 1104 129)" fill="none" stroke="#444" stroke-width="1.26"/>
<ellipse cx="1104" cy="129" rx="2" ry="2" transform="rotate(0 1104 129)" fill="#333" stroke="#333" stroke-width="0.57"/>
<ellipse cx="1209" cy="187.5" rx="5" ry="4" transform="rotate(0 1209 187.5)" fill="none" stroke="#444" stroke-width="1.26"/>
<ellipse cx="1209" cy="187.5" rx="2.5" ry="2.5" transform="rotate(0 1209 187.5)" fill="#333" stroke="#333" stroke-width="0.57"/>
<ellipse cx="1149" cy="203" rx="1.8" ry="1.8" transform="rotate(0 1149 203)" fill="#333" stroke="#333" stroke-width="0.57"/>
<ellipse cx="1149" cy="237.5" rx="2" ry="2" transform="rotate(0 1149 237.5)" fill="#333" stroke="#333" stroke-width="0.57"/>
<ellipse cx="1216" cy="145" rx="1.5" ry="1.5" transform="rotate(0 1216 145)" fill="#333" stroke="#333" stroke-width="0.57"/>
<ellipse cx="1195" cy="132.5" rx="1.3" ry="1.3" transform="rotate(0 1195 132.5)" fill="#333" stroke="#333" stroke-width="0.57"/>
<path d="M1146,140C1148.3,140.8 1155.2,145.2 1160,145C1164.8,144.8 1168.3,140.2 1175,139C1181.7,137.8 1191.7,137.2 1200,137.5C1208.3,137.8 1216.7,138.9 1225,141C1233.3,143.1 1245.8,148.5 1250,150" fill="none" stroke="#444" stroke-width="1.26"/>
<path d="M1167.5,147.5C1171.2,150.4 1184.6,158.8 1190,165C1195.4,171.2 1198.8,178.3 1200,185C1201.2,191.7 1200.0,199.6 1197.5,205C1195.0,210.4 1192.9,213.8 1185,217.5C1177.1,221.2 1158.8,224.2 1150,227.5C1141.2,230.8 1138.8,232.9 1132.5,237.5C1126.2,242.1 1122.1,247.1 1112.5,255C1102.9,262.9 1085.4,276.2 1075,285C1064.6,293.8 1054.2,303.8 1050,307.5" fill="none" stroke="#444" stroke-width="1.26"/>
<path d="M1160,152C1163.3,155.0 1175.0,163.7 1180,170C1185.0,176.3 1188.7,184.2 1190,190C1191.3,195.8 1190.0,200.8 1188,205C1186.0,209.2 1184.3,212.2 1178,215C1171.7,217.8 1154.7,220.8 1150,222" fill="none" stroke="#777" stroke-width="0.92"/>
<path d="M1180,150C1183.8,153.0 1197.5,161.3 1203,168C1208.5,174.7 1212.3,183.0 1213,190C1213.7,197.0 1208.0,206.7 1207,210" fill="none" stroke="#777" stroke-width="0.92"/>
<path d="M1050,172.5C1054.2,173.3 1064.6,174.2 1075,177.5C1085.4,180.8 1102.9,186.7 1112.5,192.5C1122.1,198.3 1127.5,206.2 1132.5,212.5C1137.5,218.8 1140.8,227.1 1142.5,230" fill="none" stroke="#444" stroke-width="1.26"/>
<path d="M1115,165C1120.8,168.3 1138.8,177.9 1150,185C1161.2,192.1 1174.6,202.9 1182.5,207.5C1190.4,212.1 1195.0,211.7 1197.5,212.5" fill="none" stroke="#555" stroke-width="1.15"/>
<path d="M1145,235C1152.1,232.9 1174.2,227.1 1187.5,222.5C1200.8,217.9 1212.5,211.2 1225,207.5C1237.5,203.8 1251.7,200.8 1262.5,200C1273.3,199.2 1285.4,202.1 1290,202.5" fill="none" stroke="#555" stroke-width="1.15"/>
<path d="M1132.5,250C1139.6,247.1 1161.7,237.5 1175,232.5C1188.3,227.5 1200.0,222.5 1212.5,220C1225.0,217.5 1237.5,216.7 1250,217.5C1262.5,218.3 1277.1,220.8 1287.5,225C1297.9,229.2 1305.0,234.2 1312.5,242.5C1320.0,250.8 1327.2,266.2 1332.5,275C1337.8,283.8 1342.1,291.7 1344,295" fill="none" stroke="#555" stroke-width="1.15"/>
<path d="M1222.5,187.5C1227.1,187.1 1241.2,185.0 1250,185C1258.8,185.0 1267.9,185.0 1275,187.5C1282.1,190.0 1289.6,197.9 1292.5,200" fill="none" stroke="#666" stroke-width="1.03"/>
<path d="M1050,232.5C1055.4,233.1 1073.3,233.9 1082.5,236C1091.7,238.1 1099.2,242.2 1105,245C1110.8,247.8 1115.4,251.2 1117.5,252.5" fill="none" stroke="#555" stroke-width="1.15"/>
<path d="M1062.5,232.5 L1075,185" fill="none" stroke="#777" stroke-width="0.92"/>
<path d="M1104,247.5 L1104,195" fill="none" stroke="#777" stroke-width="0.92"/>
<path d="M1117.5,247.5 L1116,200" fill="none" stroke="#777" stroke-width="0.92"/>
<path d="M1130,235 L1130,210" fill="none" stroke="#777" stroke-width="0.92"/>
<path d="M1130,236C1127.1,239.2 1125.8,242.7 1112.5,255C1099.2,267.3 1060.4,300.8 1050,310" fill="none" stroke="#555" stroke-width="1.15"/>
<path d="M1145,240C1137.5,247.5 1115.8,270.8 1100,285C1084.2,299.2 1058.3,318.3 1050,325" fill="none" stroke="#777" stroke-width="0.92"/>
<path d="M1072.5,302.5 L1145,365" fill="none" stroke="#777" stroke-width="0.92"/>
<path d="M1117.5,523C1115.4,520.0 1109.6,513.4 1105,505C1100.4,496.6 1092.9,485.0 1090,472.5C1087.1,460.0 1085.0,444.6 1087.5,430C1090.0,415.4 1097.1,399.2 1105,385C1112.9,370.8 1123.3,357.5 1135,345C1146.7,332.5 1160.0,320.0 1175,310C1190.0,300.0 1208.3,290.8 1225,285C1241.7,279.2 1258.8,275.4 1275,275C1291.2,274.6 1311.3,279.7 1322.5,282.5C1333.7,285.3 1338.8,290.4 1342,292" fill="none" stroke="#666" stroke-width="1.03"/>
<path d="M1130,512.5C1127.5,510.4 1120.0,506.7 1115,500C1110.0,493.3 1102.5,483.3 1100,472.5C1097.5,461.7 1097.5,447.1 1100,435C1102.5,422.9 1107.5,412.5 1115,400C1122.5,387.5 1134.2,372.1 1145,360C1155.8,347.9 1166.7,337.5 1180,327.5C1193.3,317.5 1209.2,306.7 1225,300C1240.8,293.3 1259.2,288.3 1275,287.5C1290.8,286.7 1308.3,292.5 1320,295C1331.7,297.5 1340.8,301.2 1345,302.5" fill="none" stroke="#666" stroke-width="1.03"/>
<path d="M1050,522.5C1054.2,521.2 1064.6,519.2 1075,515C1085.4,510.8 1106.2,500.4 1112.5,497.5" fill="none" stroke="#666" stroke-width="1.03"/>
<path d="M1316,242.5 L1325,240 L1337.5,270 L1342.5,287.5 L1335,287.5 L1321,277.5Z" fill="none" stroke="#444" stroke-width="1.38"/>
<path d="M1320,248 L1325,246 L1335,272 L1338,283 L1334,283 L1324,275Z" fill="none" stroke="#555" stroke-width="1.15"/>
<path d="M812.5,350C815.4,355.4 826.2,375.0 830,382.5C833.8,390.0 835.8,389.6 835,395C834.2,400.4 826.8,408.3 825,415C823.2,421.7 822.8,427.5 824,435C825.2,442.5 830.2,450.8 832.5,460C834.8,469.2 837.5,480.0 837.5,490C837.5,500.0 834.8,510.8 832.5,520C830.2,529.2 826.1,538.8 824,545C821.9,551.2 820.7,555.4 820,557.5" fill="none" stroke="#333" stroke-width="1.72"/>
<path d="M780,495C782.5,498.5 787.5,508.5 795,516C802.5,523.5 812.5,533.0 825,540C837.5,547.0 855.0,554.0 870,558C885.0,562.0 902.5,564.5 915,564C927.5,563.5 936.2,558.6 945,555C953.8,551.4 958.3,546.8 967.5,542.5C976.7,538.2 991.2,531.9 1000,529C1008.8,526.1 1013.3,523.8 1020,525C1026.7,526.2 1036.7,534.2 1040,536" fill="none" stroke="#333" stroke-width="1.72"/>
<path d="M857.5,402.5C861.2,403.1 872.1,405.8 880,406C887.9,406.2 896.7,405.8 905,404C913.3,402.2 921.7,398.6 930,395C938.3,391.4 946.7,387.1 955,382.5C963.3,377.9 971.7,372.9 980,367.5C988.3,362.1 996.7,356.2 1005,350C1013.3,343.8 1025.8,333.3 1030,330" fill="none" stroke="#3a3a3a" stroke-width="1.49"/>
<path d="M880,411C884.2,410.7 896.7,410.8 905,409C913.3,407.2 921.7,403.6 930,400C938.3,396.4 946.7,392.1 955,387.5C963.3,382.9 970.8,378.8 980,372.5C989.2,366.2 1005.0,353.8 1010,350" fill="none" stroke="#555" stroke-width="1.15"/>
<path d="M837.5,395C840.8,397.1 849.6,404.2 857.5,407.5C865.4,410.8 878.3,412.5 885,415C891.7,417.5 894.6,418.8 897.5,422.5C900.4,426.2 901.4,432.9 902.5,437.5C903.6,442.1 903.2,444.6 904,450C904.8,455.4 906.5,466.7 907,470" fill="none" stroke="#555" stroke-width="1.15"/>
<path d="M805,430C808.8,432.5 818.8,442.0 827.5,445C836.2,448.0 847.5,448.5 857.5,448C867.5,447.5 873.8,448.0 887.5,442C901.2,436.0 921.3,425.8 940,412C958.7,398.2 989.8,368.2 999.7,359.5" fill="none" stroke="#666" stroke-width="1.03"/>
<path d="M825,425C827.9,426.7 835.4,433.3 842.5,435C849.6,436.7 859.6,436.7 867.5,435C875.4,433.3 885.0,427.1 890,425C895.0,422.9 896.2,422.9 897.5,422.5" fill="none" stroke="#666" stroke-width="1.03"/>
<path d="M830,442.5C834.2,442.2 846.7,442.4 855,441C863.3,439.6 875.8,435.2 880,434" fill="none" stroke="#666" stroke-width="1.03"/>
<path d="M826,451C831.7,452.5 851.0,457.5 860,460C869.0,462.5 873.3,463.8 880,466C886.7,468.2 895.0,470.5 900,473C905.0,475.5 907.0,477.5 910,481C913.0,484.5 915.9,489.5 918,494C920.1,498.5 921.6,503.7 922.5,508C923.4,512.3 923.8,515.0 923.5,520C923.2,525.0 922.6,532.2 921,538C919.4,543.8 916.7,548.8 914,555C911.3,561.2 909.0,567.5 905,575C901.0,582.5 892.5,595.8 890,600" fill="none" stroke="#666" stroke-width="1.03"/>
<path d="M827.5,447.5C832.9,448.9 851.2,453.8 860,456C868.8,458.2 873.3,459.2 880,461C886.7,462.8 895.5,465.5 900,467C904.5,468.5 904.3,468.2 907,470C909.7,471.8 913.0,474.3 916,478C919.0,481.7 922.5,487.0 925,492C927.5,497.0 929.8,503.0 931,508C932.2,513.0 932.7,516.7 932.5,522C932.3,527.3 931.2,534.5 930,540C928.8,545.5 927.0,550.0 925,555C923.0,560.0 919.2,567.5 918,570" fill="none" stroke="#666" stroke-width="1.03"/>
<path d="M1036,308C1033.7,311.3 1026.3,321.0 1022,328C1017.7,335.0 1014.9,340.1 1010,350C1005.1,359.9 997.5,375.0 992.5,387.5C987.5,400.0 982.5,413.8 980,425C977.5,436.2 976.7,444.2 977.5,455C978.3,465.8 981.2,478.3 985,490C988.8,501.7 997.5,519.2 1000,525" fill="none" stroke="#666" stroke-width="1.03"/>
<path d="M1072.5,302.5C1070.4,305.8 1064.6,314.1 1060,322C1055.4,329.9 1050.8,339.1 1045,350C1039.2,360.9 1030.0,375.0 1025,387.5C1020.0,400.0 1016.8,413.3 1015,425C1013.2,436.7 1013.2,446.2 1014,457.5C1014.8,468.8 1016.9,481.7 1020,492.5C1023.1,503.3 1029.2,515.4 1032.5,522.5C1035.8,529.6 1038.8,532.9 1040,535" fill="none" stroke="#666" stroke-width="1.03"/>
<ellipse cx="817.5" cy="397.5" rx="2.5" ry="2.5" transform="rotate(0 817.5 397.5)" fill="#333" stroke="#333" stroke-width="0.57"/>
<ellipse cx="860" cy="422.5" rx="3" ry="3" transform="rotate(0 860 422.5)" fill="#333" stroke="#333" stroke-width="0.57"/>
<ellipse cx="836" cy="414" rx="6" ry="6" transform="rotate(0 836 414)" fill="none" stroke="#444" stroke-width="1.26"/>
<ellipse cx="834" cy="415" rx="4" ry="5" transform="rotate(0 834 415)" fill="none" stroke="#666" stroke-width="1.03"/>
<ellipse cx="821" cy="565" rx="2" ry="2" transform="rotate(0 821 565)" fill="#333" stroke="#333" stroke-width="0.57"/>
<path d="M837,380.5C846.0,374.0 880.8,347.2 891,341.5C901.2,335.8 897.0,344.2 898.5,346C900.0,347.8 908.2,342.0 900,352C891.8,362.0 857.5,397.0 849,406" fill="none" stroke="#444" stroke-width="1.26"/>
<path d="M842,385 L893,347" fill="none" stroke="#666" stroke-width="1.03"/>
<ellipse cx="887" cy="350" rx="1.8" ry="1.8" transform="rotate(0 887 350)" fill="#444" stroke="#444" stroke-width="0.57"/>
<ellipse cx="872" cy="362" rx="1.8" ry="1.8" transform="rotate(0 872 362)" fill="#444" stroke="#444" stroke-width="0.57"/>
<path d="M807.5,372.5 L827.5,385" fill="none" stroke="#555" stroke-width="1.15"/>
<path d="M1040,537.5 L1010,613" fill="none" stroke="#3a3a3a" stroke-width="1.49"/>
<path d="M1030,537.5 L1000,613" fill="none" stroke="#555" stroke-width="1.15"/>
<ellipse cx="670" cy="288" rx="15.5" ry="6" transform="rotate(17 670 288)" fill="none" stroke="#3a3a3a" stroke-width="1.49"/>
<ellipse cx="670" cy="289" rx="13" ry="4.3" transform="rotate(17 670 289)" fill="none" stroke="#666" stroke-width="1.03"/>
<path d="M653.5,288C654.6,289.2 657.1,293.2 660,295C662.9,296.8 667.0,298.6 671,299C675.0,299.4 681.8,297.8 684,297.5" fill="none" stroke="#888" stroke-width="1.03"/>
<path d="M652,292C653.1,293.2 655.5,297.2 658.5,299C661.5,300.8 665.9,302.6 670,303C674.1,303.4 680.8,301.8 683,301.5" fill="none" stroke="#888" stroke-width="1.03"/>
<path d="M650.5,296C651.6,297.2 653.9,301.2 657,303C660.1,304.8 664.9,306.6 669,307C673.1,307.4 679.4,305.8 681.5,305.5" fill="none" stroke="#888" stroke-width="1.03"/>
<path d="M655,283 L648,300 L637,328" fill="none" stroke="#3a3a3a" stroke-width="1.49"/>
<path d="M637,328C637.2,329.2 637.3,333.0 638,335C638.7,337.0 640.8,338.0 641,340C641.2,342.0 640.8,345.2 639,347C637.2,348.8 631.7,349.8 630,351C628.3,352.2 629.2,353.5 629,354" fill="none" stroke="#3a3a3a" stroke-width="1.49"/>
<path d="M629,354 L622,375 L620.5,378" fill="none" stroke="#3a3a3a" stroke-width="1.49"/>
<path d="M685,293 L682,305 L670,340 L655,379.5 L638.5,427.5 L628,457.5 L619,488 L612.5,513" fill="none" stroke="#3a3a3a" stroke-width="1.49"/>
<path d="M664,293 L660,305 L640,370 L625,414" fill="none" stroke="#777" stroke-width="1.03"/>
<ellipse cx="586" cy="320.5" rx="10.5" ry="12.5" transform="rotate(22 586 320.5)" fill="none" stroke="#3a3a3a" stroke-width="2.3"/>
<path d="M600,301.5C601.2,301.8 605.2,301.9 607,303.5C608.8,305.1 610.5,308.4 611,311C611.5,313.6 610.8,316.6 610,319C609.2,321.4 606.7,324.4 606,325.5" fill="none" stroke="#3a3a3a" stroke-width="1.84"/>
<path d="M582,308.5C583.8,307.5 590.0,303.7 593,302.5C596.0,301.3 598.8,301.7 600,301.5" fill="none" stroke="#3a3a3a" stroke-width="1.72"/>
<path d="M590,332.5C591.7,331.9 597.3,330.2 600,329C602.7,327.8 605.0,326.1 606,325.5" fill="none" stroke="#3a3a3a" stroke-width="1.72"/>
<ellipse cx="593" cy="316" rx="4.5" ry="9" transform="rotate(22 593 316)" fill="none" stroke="#555" stroke-width="1.38"/>
<ellipse cx="598" cy="314" rx="4" ry="9" transform="rotate(22 598 314)" fill="none" stroke="#666" stroke-width="1.26"/>
<path d="M546,365 L532,398 L571,406.5 L583,382.5 L562,370.5Z" fill="none" stroke="#444" stroke-width="1.38"/>
<path d="M554,370 L540,398" fill="none" stroke="#ccc" stroke-width="2.3"/>
<ellipse cx="565" cy="394.5" rx="2.2" ry="2.2" transform="rotate(0 565 394.5)" fill="#666" stroke="#666" stroke-width="0.57"/>
<path d="M562,370.5 L566.5,357 L571,356 L610,379.5 L612,381 L608.5,393 L583,382.5" fill="none" stroke="#444" stroke-width="1.38"/>
<path d="M566,372 L607,391" fill="none" stroke="#777" stroke-width="1.03"/>
<path d="M610,379.5 L620.5,378 L640,388.5 L640.7,393 L637,405 L635.5,408" fill="none" stroke="#444" stroke-width="1.38"/>
<path d="M608.5,393 L616,400.5 L635.5,408" fill="none" stroke="#444" stroke-width="1.26"/>
<path d="M610,394 L638,389" fill="none" stroke="#999" stroke-width="0.92"/>
<path d="M612,396 L639,392" fill="none" stroke="#999" stroke-width="0.92"/>
<path d="M616,400.5 L635.5,408 L637.7,411.7 L631,432 L625,450 L620.5,450 L604,441 L616,405" fill="none" stroke="#444" stroke-width="1.38"/>
<ellipse cx="625.7" cy="411.7" rx="4.5" ry="4.5" transform="rotate(0 625.7 411.7)" fill="none" stroke="#444" stroke-width="1.38"/>
<ellipse cx="613" cy="438.7" rx="4.5" ry="4.5" transform="rotate(0 613 438.7)" fill="none" stroke="#444" stroke-width="1.38"/>
<path d="M583,382.5C582.5,386.2 581.8,398.8 580,405C578.2,411.2 574.0,416.2 572.5,420C571.0,423.8 570.2,425.5 571,427.5C571.8,429.5 571.5,429.8 577,432C582.5,434.2 599.5,439.5 604,441" fill="none" stroke="#444" stroke-width="1.38"/>
<path d="M608.5,396 L595,433.5 L601,436.5 L616,403.5" fill="none" stroke="#444" stroke-width="1.26"/>
<path d="M575.5,421.5 L580,418.5 L584.5,423 L581.5,430.5 L576,427.5Z" fill="none" stroke="#555" stroke-width="1.15"/>
<path d="M589,414 L593.5,411.7 L596.5,417 L592,423 L588.2,420Z" fill="none" stroke="#555" stroke-width="1.15"/>
<path d="M577,405 L575.5,412.5" fill="none" stroke="#222" stroke-width="2.76"/>
<path d="M593,423C592.9,424.5 592.0,430.2 592.5,432C593.0,433.8 595.4,433.7 596,434" fill="none" stroke="#444" stroke-width="1.38"/>
<path d="M544.7,428 L550,426 L556,432 L565,435 L580,441 L590.5,442.5 L595,447 L608.5,448.5 L604,462 L592,463.5 L590.5,465.7 L583,464 L580,457.5 L565,453 L556,447 L550,439.5Z" fill="none" stroke="#444" stroke-width="1.38"/>
<path d="M550,430 L556,440 L566,447 L580,452" fill="none" stroke="#666" stroke-width="1.03"/>
<path d="M580,445.5 L590.5,448.5 L590.5,465 L583,463.5Z" fill="none" stroke="#444" stroke-width="1.26"/>
<ellipse cx="550.7" cy="433.5" rx="1.4" ry="1.4" transform="rotate(0 550.7 433.5)" fill="#555" stroke="#555" stroke-width="0.57"/>
<ellipse cx="586.7" cy="462" rx="1.4" ry="1.4" transform="rotate(0 586.7 462)" fill="#555" stroke="#555" stroke-width="0.57"/>
<path d="M590.5,448.5 L606,452" fill="none" stroke="#666" stroke-width="1.03"/>
<path d="M653.5,369.7 L671.5,375 L673,377 L655,372Z" fill="none" stroke="#444" stroke-width="1.26"/>
<path d="M664,357 L676,360 L677.5,362 L664,359Z" fill="none" stroke="#444" stroke-width="1.26"/>
<path d="M664,357 L660,370.5" fill="none" stroke="#444" stroke-width="1.26"/>
<path d="M632.5,426 L638.5,438 L640,439.5" fill="none" stroke="#444" stroke-width="1.38"/>
<path d="M625,450 L632.5,450 L633,454.5 L625,455Z" fill="none" stroke="#555" stroke-width="1.15"/>
<path d="M586,465 L580,488 L577,497" fill="none" stroke="#444" stroke-width="1.38"/>
<path d="M604,462 L596.5,488" fill="none" stroke="#444" stroke-width="1.38"/>
<path d="M625,463 L621.5,490 L627,478Z" fill="#444" stroke="#333" stroke-width="1.15"/>
<path d="M589,467 L584,483 L577,496" fill="none" stroke="#3a3a3a" stroke-width="1.49"/>
<path d="M604,465 L592,503" fill="none" stroke="#777" stroke-width="1.03"/>
<path d="M577,496 L592,504 L595,506 L594,510 L584,535 L579,550 L548,550 L555,539" fill="none" stroke="#3a3a3a" stroke-width="1.49"/>
<path d="M555,539C555.8,538.0 558.5,534.8 560,533C561.5,531.2 563.5,530.2 564,528C564.5,525.8 563.8,522.0 563,520C562.2,518.0 559.7,516.7 559,516" fill="none" stroke="#3a3a3a" stroke-width="1.49"/>
<path d="M559,516 L550,517 L549,513 L577,496" fill="none" stroke="#3a3a3a" stroke-width="1.49"/>
<path d="M565,520 L592,508" fill="none" stroke="#888" stroke-width="1.03"/>
<path d="M566,523 L591,511.5" fill="none" stroke="#888" stroke-width="1.03"/>
<ellipse cx="563.5" cy="512.5" rx="2.2" ry="1.6" transform="rotate(0 563.5 512.5)" fill="#666" stroke="#555" stroke-width="1.15"/>
<ellipse cx="581.5" cy="520.5" rx="1.8" ry="2.2" transform="rotate(0 581.5 520.5)" fill="#666" stroke="#555" stroke-width="1.15"/>
<ellipse cx="555" cy="542.5" rx="1.8" ry="2.4" transform="rotate(0 555 542.5)" fill="#666" stroke="#555" stroke-width="1.15"/>
<ellipse cx="575" cy="540.5" rx="1.8" ry="2.4" transform="rotate(0 575 540.5)" fill="#666" stroke="#555" stroke-width="1.15"/>
<path d="M537.5,562.5C540.4,561.7 547.9,557.5 555,557.5C562.1,557.5 573.3,560.4 580,562.5C586.7,564.6 592.5,568.8 595,570" fill="none" stroke="#444" stroke-width="1.26"/>
<path d="M537.5,562.5C536.9,564.6 531.9,570.4 534,575C536.1,579.6 543.2,585.8 550,590C556.8,594.2 567.1,596.2 575,600C582.9,603.8 593.8,610.4 597.5,612.5" fill="none" stroke="#444" stroke-width="1.26"/>
<path d="M549,553C551.2,554.2 556.8,557.8 562,560C567.2,562.2 574.7,563.7 580,566C585.3,568.3 591.7,572.7 594,574" fill="none" stroke="#666" stroke-width="1.03"/>
<path d="M542,567C545.0,568.2 553.3,571.8 560,574C566.7,576.2 575.8,577.5 582,580C588.2,582.5 594.5,587.5 597,589" fill="none" stroke="#666" stroke-width="1.03"/>
<path d="M538,570C541.0,572.0 549.0,578.7 556,582C563.0,585.3 573.0,587.0 580,590C587.0,593.0 595.0,598.3 598,600" fill="none" stroke="#666" stroke-width="1.03"/>
<ellipse cx="546" cy="581" rx="1.5" ry="1.5" transform="rotate(0 546 581)" fill="#444" stroke="#444" stroke-width="0.57"/>
<ellipse cx="592" cy="633.5" rx="22" ry="10.5" transform="rotate(44 592 633.5)" fill="none" stroke="#3a3a3a" stroke-width="1.49"/>
<ellipse cx="591" cy="634.5" rx="24" ry="12.5" transform="rotate(44 591 634.5)" fill="none" stroke="#555" stroke-width="1.15"/>
<path d="M571,612C570.5,613.7 567.5,617.7 568,622C568.5,626.3 570.7,633.0 574,638C577.3,643.0 582.7,648.3 588,652C593.3,655.7 603.0,658.7 606,660" fill="none" stroke="#777" stroke-width="1.03"/>
<path d="M568,612C567.5,614.0 564.3,619.2 565,624C565.7,628.8 568.3,635.8 572,641C575.7,646.2 581.7,651.3 587,655C592.3,658.7 601.2,661.7 604,663" fill="none" stroke="#888" stroke-width="1.03"/>
<ellipse cx="611" cy="688" rx="24" ry="8" transform="rotate(41 611 688)" fill="none" stroke="#444" stroke-width="1.38"/>
<path d="M592,668C591.5,669.0 589.2,671.7 589,674C588.8,676.3 589.5,679.3 591,682C592.5,684.7 596.8,688.7 598,690" fill="none" stroke="#444" stroke-width="1.84"/>
<path d="M594,666C592.8,667.2 588.0,670.0 587,673C586.0,676.0 586.5,680.7 588,684C589.5,687.3 593.0,690.3 596,693C599.0,695.7 604.3,698.8 606,700" fill="none" stroke="#777" stroke-width="1.03"/>
<path d="M625,475C624.8,479.2 624.0,490.8 624,500C624.0,509.2 624.5,520.8 625,530C625.5,539.2 625.5,546.3 627,555C628.5,563.7 630.2,571.2 634,582C637.8,592.8 644.0,608.2 650,620C656.0,631.8 662.9,642.9 670,652.5C677.1,662.1 684.2,671.2 692.5,677.5C700.8,683.8 712.9,685.8 720,690C727.1,694.2 732.5,700.8 735,703" fill="none" stroke="#3a3a3a" stroke-width="1.49"/>
<path d="M627,465C625.0,470.8 619.2,489.2 615,500C610.8,510.8 605.8,520.8 602,530C598.2,539.2 593.0,545.0 592,555C591.0,565.0 593.5,579.2 596,590C598.5,600.8 603.0,609.6 607,620C611.0,630.4 614.5,640.8 620,652.5C625.5,664.2 636.7,683.8 640,690" fill="none" stroke="#3a3a3a" stroke-width="1.49"/>
<path d="M626,470C625.0,475.0 622.7,490.0 620,500C617.3,510.0 612.7,520.8 610,530C607.3,539.2 604.7,545.0 604,555C603.3,565.0 603.8,578.8 606,590C608.2,601.2 615.2,616.7 617,622" fill="none" stroke="#444" stroke-width="1.38"/>
<path d="M622,490 L622,545" fill="none" stroke="#999" stroke-width="0.92"/>
<path d="M603,537 L623,548" fill="none" stroke="#999" stroke-width="0.92"/>
<path d="M640,583.5 L781,495" fill="none" stroke="#333" stroke-width="1.84"/>
<path d="M644.5,589 L779.5,503.5" fill="none" stroke="#ccc" stroke-width="2.88"/>
<path d="M646,592 L779,507" fill="none" stroke="#777" stroke-width="1.03"/>
<path d="M670,585 L767.5,529.5" fill="none" stroke="#777" stroke-width="1.03"/>
<path d="M646,604.5 L770.5,531" fill="none" stroke="#555" stroke-width="1.15"/>
<path d="M649,610.5 L760,540 L770.5,532.5" fill="none" stroke="#444" stroke-width="1.26"/>
<path d="M652,616 L730,568" fill="none" stroke="#999" stroke-width="0.92"/>
<ellipse cx="659.5" cy="588" rx="7.5" ry="4.5" transform="rotate(-20 659.5 588)" fill="#999" stroke="#777" stroke-width="1.15"/>
<ellipse cx="659.5" cy="588" rx="3" ry="2" transform="rotate(-20 659.5 588)" fill="#333" stroke="#333" stroke-width="0.57"/>
<ellipse cx="757" cy="526.5" rx="7.5" ry="4.5" transform="rotate(-20 757 526.5)" fill="#999" stroke="#777" stroke-width="1.15"/>
<ellipse cx="757" cy="526.5" rx="3" ry="2" transform="rotate(-20 757 526.5)" fill="#333" stroke="#333" stroke-width="0.57"/>
<ellipse cx="680.5" cy="574.5" rx="1.6" ry="1.3" transform="rotate(0 680.5 574.5)" fill="#444" stroke="#444" stroke-width="0.57"/>
<path d="M730,561C730.5,561.8 731.2,564.5 733,565.5C734.8,566.5 738.2,567.5 740.5,567C742.8,566.5 745.2,564.8 746.5,562.5C747.8,560.2 747.8,555.0 748,553.5" fill="none" stroke="#3a3a3a" stroke-width="1.49"/>
<ellipse cx="673.7" cy="535.5" rx="10" ry="15.5" transform="rotate(-12 673.7 535.5)" fill="none" stroke="#333" stroke-width="1.95"/>
<ellipse cx="675.5" cy="536.5" rx="7" ry="12" transform="rotate(-12 675.5 536.5)" fill="none" stroke="#444" stroke-width="1.38"/>
<ellipse cx="677" cy="538" rx="3.5" ry="7" transform="rotate(-12 677 538)" fill="none" stroke="#444" stroke-width="1.72"/>
<path d="M670,523 L681,549" fill="none" stroke="#444" stroke-width="1.38"/>
<ellipse cx="675" cy="541" rx="2.5" ry="3.5" transform="rotate(0 675 541)" fill="#444" stroke="#444" stroke-width="0.57"/>
<path d="M786,512C787.5,514.7 790.7,522.5 795,528C799.3,533.5 804.5,540.3 812,545C819.5,549.7 835.3,554.2 840,556" fill="none" stroke="#777" stroke-width="1.03"/>
<path d="M781,495C780.0,502.5 777.2,526.5 775,540C772.8,553.5 770.5,566.0 767.5,576C764.5,586.0 760.8,594.2 757,600C753.2,605.8 748.5,609.2 745,610.5C741.5,611.8 737.5,608.0 736,607.5" fill="none" stroke="#3a3a3a" stroke-width="1.49"/>
<path d="M772,531C770.8,536.5 767.5,554.5 764.5,564C761.5,573.5 757.5,581.5 754,588C750.5,594.5 746.8,600.0 743.5,603C740.2,606.0 736.0,605.5 734.5,606" fill="none" stroke="#444" stroke-width="1.26"/>
<path d="M790,523.5C789.0,526.2 786.5,532.2 784,540C781.5,547.8 777.0,564.0 775,570C773.0,576.0 772.5,575.0 772,576" fill="none" stroke="#444" stroke-width="1.26"/>
<path d="M790,523.5C792.5,526.2 798.8,535.2 805,540C811.2,544.8 820.0,548.7 827.5,552C835.0,555.3 846.0,558.7 849.7,560" fill="none" stroke="#777" stroke-width="1.03"/>
<path d="M797,545C800.8,546.8 812.0,552.2 820,556C828.0,559.8 840.8,566.0 845,568" fill="none" stroke="#777" stroke-width="1.03"/>
<path d="M752,582 L762,590" fill="none" stroke="#999" stroke-width="0.92"/>
<path d="M757,600C754.6,600.8 751.2,600.0 742.5,605C733.8,610.0 715.8,622.5 705,630C694.2,637.5 682.1,646.7 677.5,650" fill="none" stroke="#444" stroke-width="1.26"/>
<path d="M695,639.5C706.0,633.5 748.5,610.2 761,603.5C773.5,596.8 766.0,599.9 770,599C774.0,598.1 781.0,597.7 785,598C789.0,598.3 786.8,597.1 794,601C801.2,604.9 822.5,617.1 828.5,621.5C834.5,625.9 831.0,625.2 830,627.5C829.0,629.8 824.2,633.2 822.5,635C820.8,636.8 820.0,637.5 819.5,638" fill="none" stroke="#3a3a3a" stroke-width="1.49"/>
<path d="M699.5,650 L764,615.5" fill="none" stroke="#444" stroke-width="1.38"/>
<path d="M770,612.5C771.0,611.5 773.5,607.8 776,606.5C778.5,605.2 777.2,602.0 785,605C792.8,608.0 816.0,620.5 822.5,624.5C829.0,628.5 824.8,627.2 824,629C823.2,630.8 819.0,634.0 818,635" fill="none" stroke="#444" stroke-width="1.38"/>
<path d="M773,617C773.8,615.8 775.5,611.0 777.5,609.5C779.5,608.0 778.8,605.5 785,608C791.2,610.5 810.0,621.8 815,624.5" fill="none" stroke="#555" stroke-width="1.15"/>
<path d="M698,645 L762,610" fill="none" stroke="#ddd" stroke-width="2.76"/>
<path d="M812,636.5 L755,671" fill="none" stroke="#3a3a3a" stroke-width="1.49"/>
<path d="M815,645.5 L758,678.5" fill="none" stroke="#444" stroke-width="1.38"/>
<path d="M813,641 L757,675" fill="none" stroke="#ddd" stroke-width="2.76"/>
<path d="M680,657.5C683.2,659.8 692.8,666.8 699.5,671C706.2,675.2 715.5,680.5 720.5,683C725.5,685.5 728.0,685.5 729.5,686" fill="none" stroke="#444" stroke-width="1.38"/>
<path d="M683,650C686.2,652.0 695.8,658.0 702.5,662C709.2,666.0 719.5,671.2 723.5,674C727.5,676.8 726.0,677.8 726.5,678.5" fill="none" stroke="#444" stroke-width="1.38"/>
<path d="M699.5,650 L705,662" fill="none" stroke="#555" stroke-width="1.15"/>
<path d="M695,639.5 L688,652" fill="none" stroke="#555" stroke-width="1.15"/>
<path d="M712,644 L722,662" fill="none" stroke="#777" stroke-width="1.03"/>
<path d="M720,640 L728,655" fill="none" stroke="#777" stroke-width="1.03"/>
<path d="M790,606 L792,630" fill="none" stroke="#555" stroke-width="1.15"/>
<path d="M800,612 L805,632" fill="none" stroke="#555" stroke-width="1.15"/>
<path d="M662,628C663.3,633.3 666.8,651.1 670,660C673.2,668.9 678.3,676.2 681.5,681.5C684.7,686.8 684.2,689.0 689,692C693.8,695.0 702.9,698.2 710,699.5C717.1,700.8 728.1,699.9 731.7,700" fill="none" stroke="#444" stroke-width="1.26"/>
<path d="M665,640C666.8,644.7 671.8,660.3 676,668C680.2,675.7 684.0,681.7 690,686C696.0,690.3 705.0,692.7 712,694C719.0,695.3 728.7,694.0 732,694" fill="none" stroke="#777" stroke-width="1.03"/>
<path d="M720.5,681.5 L732.5,687.5 L734,695 L729.5,716 L732.5,723.5 L764,726.5 L776,729.5 L782,740 L788,748" fill="none" stroke="#333" stroke-width="1.61"/>
<path d="M734,695C737.5,694.0 746.5,691.5 755,689C763.5,686.5 775.5,684.0 785,680C794.5,676.0 803.2,670.0 812,665C820.8,660.0 828.2,656.8 837.5,650C846.8,643.2 858.8,632.5 867.5,624.5C876.2,616.5 886.0,605.8 889.7,602" fill="none" stroke="#444" stroke-width="1.26"/>
<path d="M755,678.5C760.0,677.0 775.8,673.2 785,669.5C794.2,665.8 805.5,659.2 810.5,656C815.5,652.8 813.2,651.5 815,650C816.8,648.5 816.0,649.8 821,647C826.0,644.2 836.0,640.5 845,633.5C854.0,626.5 868.8,611.9 875,605C881.2,598.1 880.8,594.2 882,592" fill="none" stroke="#555" stroke-width="1.15"/>
<path d="M815,650C815.5,649.5 816.5,646.0 818,647C819.5,648.0 822.2,652.2 824,656C825.8,659.8 826.5,666.8 828.5,669.5C830.5,672.2 830.8,673.2 836,672.5C841.2,671.8 851.0,666.8 860,665C869.0,663.2 879.7,661.8 889.7,662C899.7,662.2 915.0,665.3 920,666" fill="none" stroke="#444" stroke-width="1.38"/>
<path d="M762.5,680 L755,748" fill="none" stroke="#999" stroke-width="0.92"/>
<path d="M812,665 L803,748" fill="none" stroke="#999" stroke-width="0.92"/>
<path d="M837.5,650 L828.5,748" fill="none" stroke="#999" stroke-width="0.92"/>
<path d="M682,686 L674,750" fill="none" stroke="#999" stroke-width="0.92"/>
<ellipse cx="825.5" cy="703" rx="2.3" ry="2.3" transform="rotate(0 825.5 703)" fill="#444" stroke="#444" stroke-width="0.57"/>
<ellipse cx="863" cy="692.7" rx="2.3" ry="2.3" transform="rotate(0 863 692.7)" fill="#444" stroke="#444" stroke-width="0.57"/>
<ellipse cx="812.7" cy="605" rx="3.5" ry="2.2" transform="rotate(0 812.7 605)" fill="#333" stroke="#999" stroke-width="1.72"/>
<ellipse cx="707" cy="669.5" rx="3.5" ry="2.2" transform="rotate(0 707 669.5)" fill="#333" stroke="#999" stroke-width="1.72"/>
<ellipse cx="821" cy="565" rx="2" ry="2.5" transform="rotate(0 821 565)" fill="#444" stroke="#444" stroke-width="0.57"/>
<path d="M784,574 L814,574" fill="none" stroke="#222" stroke-width="3.45"/>
<path d="M773.5,575C776.2,572.4 785.8,561.8 790,559.5C794.2,557.2 795.0,558.8 799,561C803.0,563.2 811.5,571.0 814,573" fill="none" stroke="#444" stroke-width="1.26"/>
<path d="M780,572C782.0,570.7 788.7,565.0 792,564C795.3,563.0 797.3,564.7 800,566C802.7,567.3 806.7,571.0 808,572" fill="none" stroke="#777" stroke-width="1.03"/>
<path d="M790,578 L793,585 L797,578" fill="none" stroke="#444" stroke-width="1.38"/>
<path d="M721.7,597C722.3,596.5 724.4,594.0 725.5,594C726.6,594.0 727.8,593.5 728.5,597C729.2,600.5 730.5,611.2 730,615C729.5,618.8 726.5,619.5 725.5,619.5C724.5,619.5 724.6,618.6 724,615C723.4,611.4 722.3,600.8 722,598" fill="none" stroke="#444" stroke-width="1.49"/>
<path d="M785,635C785.5,634.8 787.2,633.3 788,633.5C788.8,633.7 790.0,632.0 789.5,636C789.0,640.0 786.2,653.7 785,657.5C783.8,661.3 782.6,659.2 782,659C781.4,658.8 781.2,659.7 781.5,656C781.8,652.3 783.6,640.2 784,637" fill="none" stroke="#444" stroke-width="1.49"/>
<path d="M737,662C738.5,661.1 743.0,656.5 746,656.5C749.0,656.5 753.5,661.1 755,662" fill="none" stroke="#999" stroke-width="0.92"/>
<path d="M729.5,662C732.2,660.3 740.5,652.0 746,652C751.5,652.0 759.8,660.3 762.5,662" fill="none" stroke="#999" stroke-width="0.92"/>
<path d="M722,662C726.0,659.6 738.0,647.5 746,647.5C754.0,647.5 766.0,659.6 770,662" fill="none" stroke="#999" stroke-width="0.92"/>
<path d="M746,647 L746,666" fill="none" stroke="#999" stroke-width="0.92"/>
<path d="M735,667 L746,666" fill="none" stroke="#333" stroke-width="2.53"/>
<path d="M852.5,590C852.0,594.2 852.0,608.2 849.5,615.5C847.0,622.8 842.5,629.8 837.5,633.5C832.5,637.2 822.5,637.2 819.5,638" fill="none" stroke="#555" stroke-width="1.15"/>
<path d="M822.5,599 L849.5,615.5" fill="none" stroke="#777" stroke-width="1.03"/>
<path d="M560,635C557.5,636.0 549.7,639.7 545,641C540.3,642.3 536.2,643.0 532,643C527.8,643.0 523.7,642.0 520,641C516.3,640.0 513.3,639.2 510,637C506.7,634.8 502.5,630.0 500,628C497.5,626.0 496.7,624.7 495,625C493.3,625.3 490.5,626.7 490,630C489.5,633.3 490.3,639.2 492,645C493.7,650.8 496.2,658.3 500,665C503.8,671.7 510.0,679.2 515,685C520.0,690.8 526.2,696.7 530,700C533.8,703.3 536.2,704.2 537.5,705" fill="none" stroke="#333" stroke-width="1.61"/>
<path d="M493,631C493.8,630.8 496.0,628.8 498,630C500.0,631.2 502.5,633.8 505,638C507.5,642.2 510.2,649.7 513,655C515.8,660.3 519.3,665.8 522,670C524.7,674.2 527.7,675.8 529,680C530.3,684.2 529.5,692.3 530,695C530.5,697.7 531.7,695.8 532,696" fill="none" stroke="#444" stroke-width="1.26"/>
<path d="M532,643 L531,649 L544,658 L546,659 L544,665 L548,666.5 L564,662" fill="none" stroke="#444" stroke-width="1.38"/>
<path d="M508,644 L531,650" fill="none" stroke="#ddd" stroke-width="2.88"/>
<path d="M510,649 L532,652 L544,657" fill="none" stroke="#888" stroke-width="1.03"/>
<path d="M546,659 L562,655" fill="none" stroke="#888" stroke-width="1.03"/>
<ellipse cx="558" cy="649" rx="4" ry="2.6" transform="rotate(-20 558 649)" fill="#333" stroke="#777" stroke-width="2.3"/>
<path d="M530,695C531.0,694.2 533.7,692.0 536,690C538.3,688.0 538.7,684.8 544,683C549.3,681.2 563.3,679.5 568,679C572.7,678.5 571.3,679.8 572,680" fill="none" stroke="#444" stroke-width="1.38"/>
<path d="M572,680 L575,691 L570,692 L550,694 L536,699" fill="none" stroke="#444" stroke-width="1.38"/>
<path d="M552,600 L556,615 L565,650 L574,686" fill="none" stroke="#3a3a3a" stroke-width="1.49"/>
<path d="M537.5,700C540.4,702.9 547.9,710.8 555,717.5C562.1,724.2 571.7,732.9 580,740C588.3,747.1 596.7,754.2 605,760C613.3,765.8 620.8,770.7 630,775C639.2,779.3 648.3,781.5 660,786C671.7,790.5 686.7,797.7 700,802C713.3,806.3 728.3,810.0 740,812C751.7,814.0 761.7,814.3 770,814C778.3,813.7 784.3,811.5 790,810C795.7,808.5 801.7,805.8 804,805" fill="none" stroke="#3a3a3a" stroke-width="1.49"/>
<path d="M622,720 L622,770" fill="none" stroke="#888" stroke-width="0.92"/>
<path d="M615,625 L621,640 L630,659.5 L636,673 L651,709 L658.5,710.5 L664.5,715 L675,730 L696,748" fill="none" stroke="#333" stroke-width="1.61"/>
<path d="M630,659.5 L639,653.5 L645,667 L636,673" fill="none" stroke="#444" stroke-width="1.26"/>
<path d="M643.5,655.7 L649.5,672" fill="none" stroke="#2a2a2a" stroke-width="2.76"/>
<path d="M651,709C651.5,711.5 653.0,719.0 654,724C655.0,729.0 655.2,733.0 657,739C658.8,745.0 662.5,754.0 664.5,760C666.5,766.0 668.2,772.5 669,775" fill="none" stroke="#555" stroke-width="1.15"/>
<path d="M664.5,715C665.5,718.0 668.8,726.0 670.5,733C672.2,740.0 673.8,752.0 675,757C676.2,762.0 677.5,762.0 678,763" fill="none" stroke="#555" stroke-width="1.15"/>
<path d="M669,767.5 L681,760 L685.5,767.5 L673.5,775Z" fill="none" stroke="#444" stroke-width="1.26"/>
<path d="M655.5,640C656.2,643.8 657.8,655.0 660,662.5C662.2,670.0 665.5,676.2 669,685C672.5,693.8 679.0,710.0 681,715" fill="none" stroke="#777" stroke-width="1.03"/>
<path d="M660,600 L672,640 L690,690 L700,750" fill="none" stroke="#666" stroke-width="1.03"/>
<path d="M576,682C580.0,685.0 592.0,694.5 600,700C608.0,705.5 616.0,710.5 624,715C632.0,719.5 643.0,724.5 648,727C653.0,729.5 653.0,729.5 654,730" fill="none" stroke="#3a3a3a" stroke-width="1.49"/>
<path d="M582,689.5C586.2,693.2 599.5,706.0 607.5,712C615.5,718.0 623.8,723.0 630,725.5C636.2,728.0 642.5,726.8 645,727" fill="none" stroke="#555" stroke-width="1.15"/>
<path d="M540,697C545.0,701.5 560.0,715.5 570,724C580.0,732.5 590.0,740.8 600,748C610.0,755.2 620.0,762.0 630,767.5C640.0,773.0 655.0,778.8 660,781" fill="none" stroke="#777" stroke-width="1.03"/>
<path d="M621.7,724 L621.7,764.5" fill="none" stroke="#999" stroke-width="0.92"/>
<path d="M679.5,689.5 L672,730" fill="none" stroke="#999" stroke-width="0.92"/>
<path d="M686,760C691.7,761.3 709.3,766.8 720,768C730.7,769.2 740.0,769.0 750,767C760.0,765.0 768.3,759.5 780,756C791.7,752.5 806.7,749.0 820,746C833.3,743.0 848.3,740.7 860,738C871.7,735.3 885.0,731.3 890,730" fill="none" stroke="#333" stroke-width="1.84"/>
<path d="M692,756C700.0,756.8 725.3,762.0 740,761C754.7,760.0 763.3,754.0 780,750C796.7,746.0 823.3,740.5 840,737C856.7,733.5 869.2,730.7 880,729C890.8,727.3 900.8,727.3 905,727" fill="none" stroke="#444" stroke-width="1.26"/>
<path d="M660,776C663.3,775.7 670.0,774.8 680,774C690.0,773.2 709.0,771.3 720,771C731.0,770.7 740.0,770.5 746,772C752.0,773.5 752.7,776.3 756,780C759.3,783.7 762.0,790.3 766,794C770.0,797.7 777.7,800.7 780,802" fill="none" stroke="#555" stroke-width="1.15"/>
<path d="M660,710 L676,726 L696,748" fill="none" stroke="#3a3a3a" stroke-width="1.49"/>
<ellipse cx="672" cy="771" rx="3" ry="3" transform="rotate(0 672 771)" fill="#444" stroke="#777" stroke-width="2.3"/>
<path d="M662.5,625C663.8,630.4 667.1,649.2 670,657.5C672.9,665.8 674.2,670.4 680,675C685.8,679.6 696.7,683.3 705,685C713.3,686.7 725.8,685.0 730,685" fill="none" stroke="#666" stroke-width="1.03"/>
<path d="M670,657.5 L705,635 L755,607.5" fill="none" stroke="#666" stroke-width="1.03"/>
<path d="M1010,668C1002.5,671.8 982.5,681.0 965,690.5C947.5,700.0 922.5,715.0 905,725C887.5,735.0 874.2,742.7 860,750.5C845.8,758.3 829.5,766.9 820,772C810.5,777.1 805.8,779.5 803,781" fill="none" stroke="#3a3a3a" stroke-width="1.49"/>
<path d="M1047.5,646C1041.5,650.4 1025.2,664.1 1011.5,672.5C997.8,680.9 982.8,686.5 965,696.5C947.2,706.5 922.5,722.0 905,732.5C887.5,743.0 874.2,751.6 860,759.5C845.8,767.4 830.0,775.4 820,780C810.0,784.6 803.3,785.8 800,787" fill="none" stroke="#444" stroke-width="1.38"/>
<path d="M1049,647C1043.8,651.5 1030.2,665.2 1017.5,674C1004.8,682.8 990.0,689.5 972.5,699.5C955.0,709.5 931.2,722.8 912.5,734C893.8,745.2 873.8,758.7 860,767C846.2,775.3 838.3,779.8 830,784C821.7,788.2 816.3,790.7 810,792C803.7,793.3 797.7,793.0 792,792C786.3,791.0 780.3,788.2 776,786C771.7,783.8 767.7,780.2 766,779" fill="none" stroke="#3a3a3a" stroke-width="1.49"/>
<path d="M1050.5,646C1045.8,650.9 1033.8,665.8 1022,675.5C1010.2,685.2 997.0,693.5 980,704C963.0,714.5 940.0,726.5 920,738.5C900.0,750.5 875.0,767.1 860,776C845.0,784.9 838.3,788.2 830,792C821.7,795.8 816.7,797.7 810,799C803.3,800.3 796.3,800.8 790,800C783.7,799.2 777.0,796.7 772,794C767.0,791.3 763.0,787.0 760,784C757.0,781.0 755.0,777.3 754,776" fill="none" stroke="#444" stroke-width="1.49"/>
<path d="M802,808C803.7,809.0 808.0,813.0 812,814C816.0,815.0 822.0,815.3 826,814C830.0,812.7 834.3,809.0 836,806C837.7,803.0 836.7,798.3 836,796C835.3,793.7 832.7,792.7 832,792" fill="none" stroke="#444" stroke-width="1.38"/>
<path d="M814,807C816.0,807.0 823.3,807.8 826,807C828.7,806.2 829.3,802.8 830,802" fill="none" stroke="#555" stroke-width="1.15"/>
<path d="M1005,632.5 L1017.5,625 L1045,635 L1050,642.5 L1015,670" fill="none" stroke="#444" stroke-width="1.26"/>
<path d="M1005,632.5 L995,657.5" fill="none" stroke="#444" stroke-width="1.26"/>
<path d="M1017.5,625 L1010,645 L1040,655" fill="none" stroke="#666" stroke-width="1.03"/>
<path d="M1040,540 L1020,590 L1000,645 L992.5,660" fill="none" stroke="#3a3a3a" stroke-width="1.49"/>
<path d="M1030,540 L985,657.5" fill="none" stroke="#555" stroke-width="1.15"/>
<path d="M915,615C917.5,613.8 919.2,611.7 930,607.5C940.8,603.3 970.0,592.5 980,590C990.0,587.5 987.9,590.0 990,592.5C992.1,595.0 994.2,600.4 992.5,605C990.8,609.6 987.1,615.4 980,620C972.9,624.6 960.0,628.3 950,632.5C940.0,636.7 926.2,644.2 920,645C913.8,645.8 913.8,640.8 912.5,637.5C911.2,634.2 911.6,628.8 912,625C912.4,621.2 914.5,616.7 915,615" fill="none" stroke="#444" stroke-width="1.38"/>
<path d="M950,557.5C947.5,560.8 940.5,570.2 935,577C929.5,583.8 922.0,592.5 917,598C912.0,603.5 909.2,604.0 905,610C900.8,616.0 893.2,628.2 891.5,634C889.8,639.8 892.2,641.8 894.5,644.5C896.8,647.2 898.2,649.5 905,650.5C911.8,651.5 923.8,650.2 935,650.5C946.2,650.8 965.0,651.2 972.5,652C980.0,652.8 978.8,654.5 980,655" fill="none" stroke="#666" stroke-width="1.03"/>
<path d="M985,588C986.8,589.7 994.3,594.0 996,598C997.7,602.0 996.8,607.3 995,612C993.2,616.7 989.5,622.0 985,626C980.5,630.0 970.8,634.3 968,636" fill="none" stroke="#777" stroke-width="1.03"/>
<path d="M990,586C991.7,588.0 998.5,593.5 1000,598C1001.5,602.5 1000.8,608.0 999,613C997.2,618.0 993.5,623.5 989,628C984.5,632.5 974.8,638.0 972,640" fill="none" stroke="#888" stroke-width="1.03"/>
<path d="M935,578.5 L995,566.5" fill="none" stroke="#555" stroke-width="1.15"/>
<path d="M922,618C924.2,617.0 925.7,615.5 935,612C944.3,608.5 969.7,599.0 978,597C986.3,595.0 984.0,598.3 985,600C986.0,601.7 985.7,604.5 984,607C982.3,609.5 981.0,611.8 975,615C969.0,618.2 956.3,622.5 948,626C939.7,629.5 928.8,634.3 925,636" fill="none" stroke="#888" stroke-width="0.92"/>
<ellipse cx="925" cy="619" rx="2.5" ry="2.5" transform="rotate(0 925 619)" fill="#444" stroke="#444" stroke-width="0.57"/>
<ellipse cx="975" cy="600" rx="2.5" ry="2.5" transform="rotate(0 975 600)" fill="#444" stroke="#444" stroke-width="0.57"/>
<path d="M995,557.5 L1001,556 L1002.5,565 L996.5,566.5Z" fill="none" stroke="#444" stroke-width="1.26"/>
<path d="M1001,556C1003.8,554.2 1013.8,546.5 1017.5,545.5C1021.2,544.5 1023.8,546.8 1023.5,550C1023.2,553.2 1019.8,561.8 1016,565C1012.2,568.2 1003.5,568.8 1001,569.5" fill="none" stroke="#444" stroke-width="1.26"/>
<ellipse cx="1010.7" cy="556.7" rx="2.5" ry="2.5" transform="rotate(0 1010.7 556.7)" fill="#555" stroke="#555" stroke-width="0.57"/>
<ellipse cx="1004" cy="581.5" rx="5.5" ry="7.5" transform="rotate(25 1004 581.5)" fill="none" stroke="#444" stroke-width="1.38"/>
<path d="M936.5,669.5C937.8,668.2 941.2,663.5 944,662C946.8,660.5 950.8,660.0 953,660.5C955.2,661.0 956.5,663.0 957.5,665C958.5,667.0 960.2,668.0 959,672.5C957.8,677.0 952.5,687.8 950,692C947.5,696.2 945.0,697.0 944,698" fill="none" stroke="#444" stroke-width="1.38"/>
<path d="M959,672.5C960.0,673.2 962.5,676.5 965,677C967.5,677.5 972.5,675.8 974,675.5" fill="none" stroke="#444" stroke-width="1.26"/>
<path d="M932,666.5 L897.5,723.5" fill="none" stroke="#777" stroke-width="1.03"/>
<ellipse cx="943" cy="671" rx="2" ry="2.6" transform="rotate(0 943 671)" fill="#555" stroke="#555" stroke-width="0.57"/>
<ellipse cx="935" cy="694" rx="6" ry="6.5" transform="rotate(0 935 694)" fill="none" stroke="#444" stroke-width="1.72"/>
<ellipse cx="935.5" cy="694" rx="2.8" ry="3" transform="rotate(0 935.5 694)" fill="none" stroke="#555" stroke-width="1.38"/>
<ellipse cx="864" cy="692.5" rx="2.3" ry="2.3" transform="rotate(0 864 692.5)" fill="#444" stroke="#444" stroke-width="0.57"/>
<ellipse cx="826" cy="702.5" rx="2.3" ry="2.3" transform="rotate(0 826 702.5)" fill="#444" stroke="#444" stroke-width="0.57"/>
<ellipse cx="905" cy="729.5" rx="3.5" ry="3" transform="rotate(0 905 729.5)" fill="#333" stroke="#666" stroke-width="2.3"/>
<ellipse cx="807" cy="791" rx="3" ry="3" transform="rotate(0 807 791)" fill="#444" stroke="#777" stroke-width="2.3"/>
<ellipse cx="934" cy="694" rx="3" ry="3" transform="rotate(0 934 694)" fill="#444" stroke="#777" stroke-width="2.3"/>
<ellipse cx="874" cy="750" rx="1.5" ry="1.5" transform="rotate(0 874 750)" fill="#444" stroke="#444" stroke-width="0.57"/>
<ellipse cx="926" cy="717.5" rx="1.5" ry="1.5" transform="rotate(0 926 717.5)" fill="#444" stroke="#444" stroke-width="0.57"/>
<path d="M984,693 L992,687" fill="none" stroke="#888" stroke-width="2.88"/>
<ellipse cx="999.5" cy="668" rx="3.2" ry="2.6" transform="rotate(0 999.5 668)" fill="#333" stroke="#777" stroke-width="2.3"/>
<path d="M815,647.5C817.5,651.2 821.2,667.1 830,670C838.8,672.9 855.0,666.2 867.5,665C880.0,663.8 894.6,662.5 905,662.5C915.4,662.5 925.8,664.6 930,665" fill="none" stroke="#444" stroke-width="1.26"/>
<path d="M815,647.5C819.6,645.0 831.7,637.5 842.5,632.5C853.3,627.5 870.4,622.5 880,617.5C889.6,612.5 893.3,610.0 900,602.5C906.7,595.0 915.0,580.8 920,572.5C925.0,564.2 928.3,555.8 930,552.5" fill="none" stroke="#444" stroke-width="1.26"/>
<path d="M890,632.5C891.2,627.5 894.2,613.8 897.5,602.5C900.8,591.2 907.9,571.2 910,565" fill="none" stroke="#666" stroke-width="1.03"/>
<path d="M935,565 L920,602.5" fill="none" stroke="#666" stroke-width="1.03"/>
<path d="M940,665 L910,720" fill="none" stroke="#666" stroke-width="1.03"/>
<path d="M925,675 L900,725" fill="none" stroke="#666" stroke-width="1.03"/>
<path d="M812.5,665 L802.5,740" fill="none" stroke="#888" stroke-width="0.92"/>
<path d="M837.5,655 L827.5,737.5" fill="none" stroke="#888" stroke-width="0.92"/>
<path d="M780,745C788.3,742.9 811.2,735.8 830,732.5C848.8,729.2 882.1,726.2 892.5,725" fill="none" stroke="#666" stroke-width="1.03"/>
<path d="M810,690 L802,740" fill="none" stroke="#888" stroke-width="0.92"/>
<path d="M834,690 L828,736" fill="none" stroke="#888" stroke-width="0.92"/>
<path d="M778,770 L810,767" fill="none" stroke="#333" stroke-width="3.45"/>
<path d="M995.7,725 L996,717.5 L1004,708.5 L1016,708.5 L1019,711.5 L1015,718 L1010,722 L998,728.7Z" fill="none" stroke="#3a3a3a" stroke-width="1.49"/>
<path d="M1002,713 L1004,721" fill="none" stroke="#666" stroke-width="1.03"/>
<ellipse cx="1008.5" cy="710.5" rx="3" ry="2.4" transform="rotate(0 1008.5 710.5)" fill="#555" stroke="#444" stroke-width="1.15"/>
<path d="M998,719 L1010,713" fill="none" stroke="#555" stroke-width="1.15"/>
<path d="M370,307 L380,293 L395,281 L413,271 L425,277 L422,285 L405,295 L392,304 L384,310Z" fill="#6e6e6e" stroke="#2a2a2a" stroke-width="1.49"/>
<path d="M375,306 L388,291 L403,280.5 L418,273.5" fill="none" stroke="#2a2a2a" stroke-width="1.15"/>
<path d="M378.5,307.5 L391,293 L405.5,283.5 L420.5,277" fill="none" stroke="#2a2a2a" stroke-width="1.15"/>
<path d="M382,309 L394,296 L408,287 L423,281" fill="none" stroke="#2a2a2a" stroke-width="1.15"/>
<path d="M370,307C369.0,309.2 365.4,315.8 364,320C362.6,324.2 361.3,329.0 361.5,332C361.7,335.0 363.6,336.7 365,338C366.4,339.3 368.8,342.2 370,340C371.2,337.8 371.3,330.0 372,325C372.7,320.0 373.7,312.5 374,310" fill="none" stroke="#444" stroke-width="1.38"/>
<path d="M367,312C366.7,315.0 364.8,325.8 365,330C365.2,334.2 367.5,335.8 368,337" fill="none" stroke="#666" stroke-width="1.03"/>
<path d="M374,310 L375,335 L388,340 L405,334 L415,326 L425,314 L429,303 L424,296 L415,294 L400,306" fill="none" stroke="#333" stroke-width="1.61"/>
<path d="M384,320 L384,338" fill="none" stroke="#444" stroke-width="1.15"/>
<path d="M392,318 L393,337" fill="none" stroke="#444" stroke-width="1.15"/>
<path d="M376,316 L392,313" fill="none" stroke="#333" stroke-width="1.84"/>
<path d="M402,312 L412,318 L414,326" fill="none" stroke="#444" stroke-width="1.15"/>
<path d="M408,308 L420,312" fill="none" stroke="#444" stroke-width="1.15"/>
<path d="M380,313 L381,336" fill="none" stroke="#555" stroke-width="1.03"/>
<path d="M388,312 L389,338" fill="none" stroke="#555" stroke-width="1.03"/>
<path d="M375,322 L400,318 L420,305" fill="none" stroke="#555" stroke-width="1.03"/>
<path d="M376,329 L402,326 L423,312" fill="none" stroke="#555" stroke-width="1.03"/>
<path d="M396,310 L399,334" fill="none" stroke="#555" stroke-width="1.03"/>
<path d="M379,308 L387,307 L388,314 L380,315Z" fill="none" stroke="#444" stroke-width="1.15"/>
<ellipse cx="407" cy="302" rx="4" ry="2.5" transform="rotate(-15 407 302)" fill="none" stroke="#444" stroke-width="1.15"/>
<ellipse cx="417.5" cy="302" rx="1.6" ry="1.6" transform="rotate(0 417.5 302)" fill="#555" stroke="#555" stroke-width="0.57"/>
<ellipse cx="381" cy="272" rx="7" ry="4.2" transform="rotate(-8 381 272)" fill="none" stroke="#444" stroke-width="1.38"/>
<ellipse cx="381" cy="272" rx="3.5" ry="2" transform="rotate(0 381 272)" fill="none" stroke="#555" stroke-width="1.15"/>
<path d="M388,270C388.7,269.3 391.3,267.8 392,266C392.7,264.2 390.7,260.5 392,259C393.3,257.5 396.5,256.7 400,257C403.5,257.3 410.8,260.3 413,261" fill="none" stroke="#444" stroke-width="1.38"/>
<path d="M386,275C387.3,274.5 392.5,274.0 394,272C395.5,270.0 394.0,264.8 395,263C396.0,261.2 397.0,260.8 400,261C403.0,261.2 410.8,263.9 413,264.5" fill="none" stroke="#444" stroke-width="1.38"/>
<path d="M413,261 L413,264.5" fill="none" stroke="#444" stroke-width="1.38"/>
<ellipse cx="321.5" cy="329" rx="3.6" ry="5.2" transform="rotate(-25 321.5 329)" fill="#aaa" stroke="#444" stroke-width="1.84"/>
<path d="M323,324.5 L335,331" fill="none" stroke="#444" stroke-width="1.26"/>
<path d="M321,334 L332.5,340" fill="none" stroke="#444" stroke-width="1.26"/>
<ellipse cx="334" cy="335.5" rx="2.4" ry="4.4" transform="rotate(-25 334 335.5)" fill="none" stroke="#555" stroke-width="1.15"/>
<ellipse cx="342" cy="342" rx="3.2" ry="4.8" transform="rotate(-25 342 342)" fill="none" stroke="#555" stroke-width="2.3"/>
<ellipse cx="351" cy="348" rx="4.5" ry="6" transform="rotate(-25 351 348)" fill="none" stroke="#555" stroke-width="1.49"/>
<ellipse cx="352" cy="348.5" rx="2.5" ry="3.5" transform="rotate(-25 352 348.5)" fill="none" stroke="#666" stroke-width="1.15"/>
<ellipse cx="1094" cy="673" rx="7" ry="4" transform="rotate(-8 1094 673)" fill="none" stroke="#444" stroke-width="1.38"/>
<ellipse cx="1094" cy="673" rx="3.2" ry="1.8" transform="rotate(0 1094 673)" fill="none" stroke="#555" stroke-width="1.15"/>
<path d="M1100,670C1101.7,669.2 1106.5,665.8 1110,665C1113.5,664.2 1118.5,666.3 1121,665.5C1123.5,664.7 1124.7,662.1 1125,660C1125.3,657.9 1123.3,654.2 1123,653" fill="none" stroke="#444" stroke-width="1.38"/>
<path d="M1102,675C1103.5,673.9 1107.5,669.5 1111,668.5C1114.5,667.5 1120.2,670.2 1123,669C1125.8,667.8 1127.5,663.7 1128,661C1128.5,658.3 1126.3,654.3 1126,653" fill="none" stroke="#444" stroke-width="1.38"/>
<path d="M1123,653 L1126,653" fill="none" stroke="#444" stroke-width="1.38"/>
<path d="M1076,710 L1084,702 L1112,692 L1138,684 L1144,689 L1164,690 L1168,696 L1156,705 L1148,704 L1128,714 L1108,720 L1102,730 L1088,732 L1076,724 L1074,716Z" fill="none" stroke="#3a3a3a" stroke-width="1.49"/>
<path d="M1080,712C1081.3,710.8 1082.3,707.7 1088,705C1093.7,702.3 1106.0,698.7 1114,696C1122.0,693.3 1132.3,690.2 1136,689" fill="none" stroke="#666" stroke-width="1.03"/>
<path d="M1098,716C1100.0,714.7 1104.7,710.0 1110,708C1115.3,706.0 1124.0,705.7 1130,704C1136.0,702.3 1143.3,699.0 1146,698" fill="none" stroke="#666" stroke-width="1.03"/>
<ellipse cx="1092" cy="708" rx="4.2" ry="3.6" transform="rotate(0 1092 708)" fill="none" stroke="#444" stroke-width="1.26"/>
<ellipse cx="1092" cy="722" rx="4.5" ry="4" transform="rotate(0 1092 722)" fill="none" stroke="#444" stroke-width="1.26"/>
<ellipse cx="1111" cy="712" rx="3" ry="3" transform="rotate(0 1111 712)" fill="none" stroke="#555" stroke-width="1.15"/>
<ellipse cx="1120" cy="694" rx="3" ry="2" transform="rotate(0 1120 694)" fill="none" stroke="#555" stroke-width="1.15"/>
<ellipse cx="1083" cy="718" rx="3" ry="4" transform="rotate(0 1083 718)" fill="none" stroke="#666" stroke-width="1.03"/>
<path d="M1152,699 L1160,698 L1154,704Z" fill="none" stroke="#444" stroke-width="1.15"/>
<path d="M1098,702 L1100,716" fill="none" stroke="#666" stroke-width="1.03"/>
<path d="M1104,722 L1112,716 L1124,712" fill="none" stroke="#666" stroke-width="1.03"/>
<path d="M1144,689 L1143,700" fill="none" stroke="#666" stroke-width="1.03"/>
<ellipse cx="1104" cy="767" rx="4.8" ry="5.2" transform="rotate(0 1104 767)" fill="none" stroke="#555" stroke-width="1.49"/>
<ellipse cx="1103.5" cy="767" rx="2.4" ry="2.8" transform="rotate(0 1103.5 767)" fill="none" stroke="#666" stroke-width="1.15"/>
<ellipse cx="1113" cy="770.5" rx="3" ry="4.2" transform="rotate(-20 1113 770.5)" fill="none" stroke="#666" stroke-width="2.3"/>
<path d="M1121,772 L1131,776" fill="none" stroke="#444" stroke-width="1.26"/>
<path d="M1119,779 L1130,785" fill="none" stroke="#444" stroke-width="1.26"/>
<ellipse cx="1120" cy="775.5" rx="2" ry="3.8" transform="rotate(-25 1120 775.5)" fill="none" stroke="#555" stroke-width="1.15"/>
<ellipse cx="1133" cy="781" rx="3.4" ry="5.4" transform="rotate(-25 1133 781)" fill="none" stroke="#444" stroke-width="1.61"/>
<path d="M642,827 L658,812 L682,828 L664,840Z" fill="none" stroke="#444" stroke-width="1.38"/>
<path d="M642,830 L644,832 L664,844 L682,831 L682,828 L664,840 L642,827Z" fill="none" stroke="#666" stroke-width="1.03"/>
<path d="M650,820 L660,812 L678,823 L662,833Z" fill="none" stroke="#555" stroke-width="1.15"/>
<path d="M655,821 L664,816 L671,820 L662,826Z" fill="none" stroke="#555" stroke-width="1.03"/>
<path d="M729,891 L745,876 L769,892 L751,904Z" fill="none" stroke="#444" stroke-width="1.38"/>
<path d="M729,894 L731,896 L751,908 L769,895 L769,892 L751,904 L729,891Z" fill="none" stroke="#666" stroke-width="1.03"/>
<path d="M737,884 L747,876 L765,887 L749,897Z" fill="none" stroke="#555" stroke-width="1.15"/>
<path d="M742,885 L751,880 L758,884 L749,890Z" fill="none" stroke="#555" stroke-width="1.03"/>
<path d="M557,818 L566,822 L573,819 L600,824 L602,840 L612,866 L626,892 L636,908 L636,916 L626,912 L598,916 L588,908 L587,898 L592,902 L604,894 L606,888 L592,860 L582,840 L568,834 L559,828Z" fill="none" stroke="#444" stroke-width="1.38"/>
<path d="M590,824C590.7,827.3 591.0,836.0 594,844C597.0,852.0 602.7,861.3 608,872C613.3,882.7 623.0,902.0 626,908" fill="none" stroke="#666" stroke-width="1.03"/>
<path d="M595,824C595.8,827.3 596.8,836.0 600,844C603.2,852.0 609.0,861.3 614,872C619.0,882.7 627.3,902.0 630,908" fill="none" stroke="#666" stroke-width="1.03"/>
<path d="M592.5,824C593.2,827.3 593.9,836.0 597,844C600.1,852.0 605.8,861.3 611,872C616.2,882.7 625.2,902.0 628,908" fill="none" stroke="#888" stroke-width="0.92"/>
<path d="M557,818 L559,828" fill="none" stroke="#333" stroke-width="2.3"/>
<path d="M587,898 L589,908" fill="none" stroke="#333" stroke-width="2.3"/>
<path d="M566,822 L568,834" fill="none" stroke="#666" stroke-width="1.03"/>
<path d="M401,497C401.4,497.2 402.6,494.5 403.7,498.5C404.8,502.5 405.4,513.0 407.6,521C409.9,529.0 413.5,537.8 417.2,546.6C420.9,555.4 426.8,566.8 430,573.6C433.2,580.5 434.4,584.6 436.5,587.7C438.6,590.9 441.5,591.7 442.5,592.5" fill="none" stroke="#3a3a3a" stroke-width="2.18"/>
<path d="M401,497C400.6,497.5 398.6,495.6 398.6,500C398.6,504.4 399.2,515.3 401.2,523.5C403.2,531.7 407.1,540.4 410.8,549C414.5,557.6 420.5,567.9 423.6,575C426.7,582.1 427.9,586.5 429.4,591.5C430.9,596.5 432.0,602.8 432.5,605" fill="none" stroke="#444" stroke-width="1.38"/>
<path d="M410,524 L420,520 L424,527.5 L422.5,534 L412.5,532.5" fill="none" stroke="#444" stroke-width="1.26"/>
<ellipse cx="416.5" cy="531" rx="3" ry="2" transform="rotate(0 416.5 531)" fill="none" stroke="#555" stroke-width="1.15"/>
<path d="M420,520 L421,515 L425,517 L424,527.5" fill="none" stroke="#555" stroke-width="1.15"/>
<path d="M442.5,590 L450,585 L459,590 L459,600 L447.5,605 L445,610 L437.5,612.5 L432.5,607.5Z" fill="none" stroke="#444" stroke-width="1.26"/>
<path d="M450,585 L450,597 L447.5,605" fill="none" stroke="#555" stroke-width="1.15"/>
<path d="M450,597 L459,600" fill="none" stroke="#555" stroke-width="1.15"/>
<ellipse cx="437.5" cy="606" rx="4.5" ry="3.5" transform="rotate(0 437.5 606)" fill="none" stroke="#444" stroke-width="1.26"/>
<text x="617.5" y="138" font-size="29.4" text-anchor="middle" fill="#1a1a1a" stroke="none">1</text>
<text x="489" y="176" font-size="29.4" text-anchor="middle" fill="#1a1a1a" stroke="none">3</text>
<text x="508.5" y="176" font-size="29.4" text-anchor="middle" fill="#1a1a1a" stroke="none">4</text>
<text x="596" y="176" font-size="29.4" text-anchor="middle" fill="#1a1a1a" stroke="none">2</text>
<text x="752.5" y="176" font-size="29.4" text-anchor="middle" fill="#1a1a1a" stroke="none">5</text>
<text x="355" y="193" font-size="29.4" text-anchor="middle" fill="#1a1a1a" stroke="none">8</text>
<text x="370.5" y="227" font-size="29.4" text-anchor="middle" fill="#1a1a1a" stroke="none">9</text>
<text x="278.5" y="379" font-size="29.4" text-anchor="middle" fill="#1a1a1a" stroke="none">10</text>
<text x="301" y="407" font-size="29.4" text-anchor="middle" fill="#1a1a1a" stroke="none">11</text>
<text x="345" y="426" font-size="29.4" text-anchor="middle" fill="#1a1a1a" stroke="none">12</text>
<text x="709.5" y="441" font-size="29.4" text-anchor="middle" fill="#1a1a1a" stroke="none">14</text>
<text x="973.5" y="794" font-size="29.4" text-anchor="middle" fill="#1a1a1a" stroke="none">14</text>
<text x="1051.5" y="803" font-size="29.4" text-anchor="middle" fill="#1a1a1a" stroke="none">12</text>
<text x="1084" y="832" font-size="29.4" text-anchor="middle" fill="#1a1a1a" stroke="none">11</text>
<text x="1122.5" y="851" font-size="29.4" text-anchor="middle" fill="#1a1a1a" stroke="none">10</text>
<text x="697.5" y="922" font-size="29.4" text-anchor="middle" fill="#1a1a1a" stroke="none">13</text>
<text x="1198.5" y="635" font-size="29.4" text-anchor="middle" fill="#1a1a1a" stroke="none">7</text>
<text x="1230.5" y="649" font-size="29.4" text-anchor="middle" fill="#1a1a1a" stroke="none">6</text>
<ellipse cx="645" cy="166" rx="5.3" ry="5.3" transform="rotate(0 645 166)" fill="#111" stroke="#111" stroke-width="0.57"/>
<ellipse cx="339" cy="215" rx="5.3" ry="5.3" transform="rotate(0 339 215)" fill="#111" stroke="#111" stroke-width="0.57"/>
<ellipse cx="1200" cy="657" rx="5.3" ry="5.3" transform="rotate(0 1200 657)" fill="#111" stroke="#111" stroke-width="0.57"/>
<path d="M468,161 L468,153 L766,153 L766,161" fill="none" stroke="#777" stroke-width="1.15"/>
<path d="M617.5,141 L617.5,153" fill="none" stroke="#777" stroke-width="1.15"/>
<path d="M326,213 L326,204 L381,204 L381,213" fill="none" stroke="#777" stroke-width="1.15"/>
<path d="M354.5,197 L354.5,204" fill="none" stroke="#777" stroke-width="1.15"/>
<path d="M1200,610 L1210.5,610 L1210.5,669 L1200,669" fill="none" stroke="#777" stroke-width="1.15"/>
<path d="M1210.5,639 L1218,639" fill="none" stroke="#777" stroke-width="1.15"/>
<path d="M489,182 L489,195 L322,527" fill="none" stroke="#666" stroke-width="1.15"/>
<path d="M510,182 L510,195 L479,300 L414,517" fill="none" stroke="#666" stroke-width="1.15"/>
<path d="M596,182 L597.5,205 L604,302" fill="none" stroke="#666" stroke-width="1.15"/>
<path d="M645,168 L645,220 L659,280" fill="none" stroke="#666" stroke-width="1.15"/>
<path d="M753,182 L753,222 L562,814" fill="none" stroke="#666" stroke-width="1.15"/>
<path d="M370,230 L370,236 L388,268" fill="none" stroke="#666" stroke-width="1.15"/>
<path d="M339,218 L339,264 L370,306" fill="none" stroke="#666" stroke-width="1.15"/>
<path d="M291,359 L318,334" fill="none" stroke="#666" stroke-width="1.15"/>
<path d="M313,385 L341,347" fill="none" stroke="#666" stroke-width="1.15"/>
<path d="M344,402 L348,354" fill="none" stroke="#666" stroke-width="1.15"/>
<path d="M704,448 L677,520" fill="none" stroke="#666" stroke-width="1.15"/>
<path d="M973,770 L998,727" fill="none" stroke="#666" stroke-width="1.15"/>
<path d="M1069,785 L1100,772" fill="none" stroke="#666" stroke-width="1.15"/>
<path d="M1095,811 L1111,775" fill="none" stroke="#666" stroke-width="1.15"/>
<path d="M1119,829 L1130,785" fill="none" stroke="#666" stroke-width="1.15"/>
<path d="M671,839 L698,899 L729,891" fill="none" stroke="#666" stroke-width="1.15"/>
<path d="M1188,627 L1160,627 L1128,657" fill="none" stroke="#666" stroke-width="1.15"/>
<path d="M1194,657 L1178,657 L1150,690" fill="none" stroke="#666" stroke-width="1.15"/>
<path d="M408,336 L533,395" fill="none" stroke="#999" stroke-width="1.15" stroke-dasharray="9 4 2 4"/>
<path d="M634,443 L758,502" fill="none" stroke="#999" stroke-width="1.15" stroke-dasharray="9 4 2 4"/>
<path d="M356,352 L382,367 L382,338" fill="none" stroke="#999" stroke-width="1.15" stroke-dasharray="6 4"/>
<path d="M686,533 L720,529" fill="none" stroke="#999" stroke-width="1.15" stroke-dasharray="8 4 2 4"/>
<path d="M1022,676 L1074,703" fill="none" stroke="#999" stroke-width="1.15" stroke-dasharray="8 4"/>
<path d="M1090,744 L1090,758 L1100,763" fill="none" stroke="#999" stroke-width="1.15" stroke-dasharray="6 4"/>
<path d="M661,797 L661,812" fill="none" stroke="#999" stroke-width="1.15" stroke-dasharray="8 4 2 4"/>
<path d="M749,818 L749,874" fill="none" stroke="#999" stroke-width="1.15" stroke-dasharray="8 4 2 4"/>
</g>
</svg>
</body></html>
